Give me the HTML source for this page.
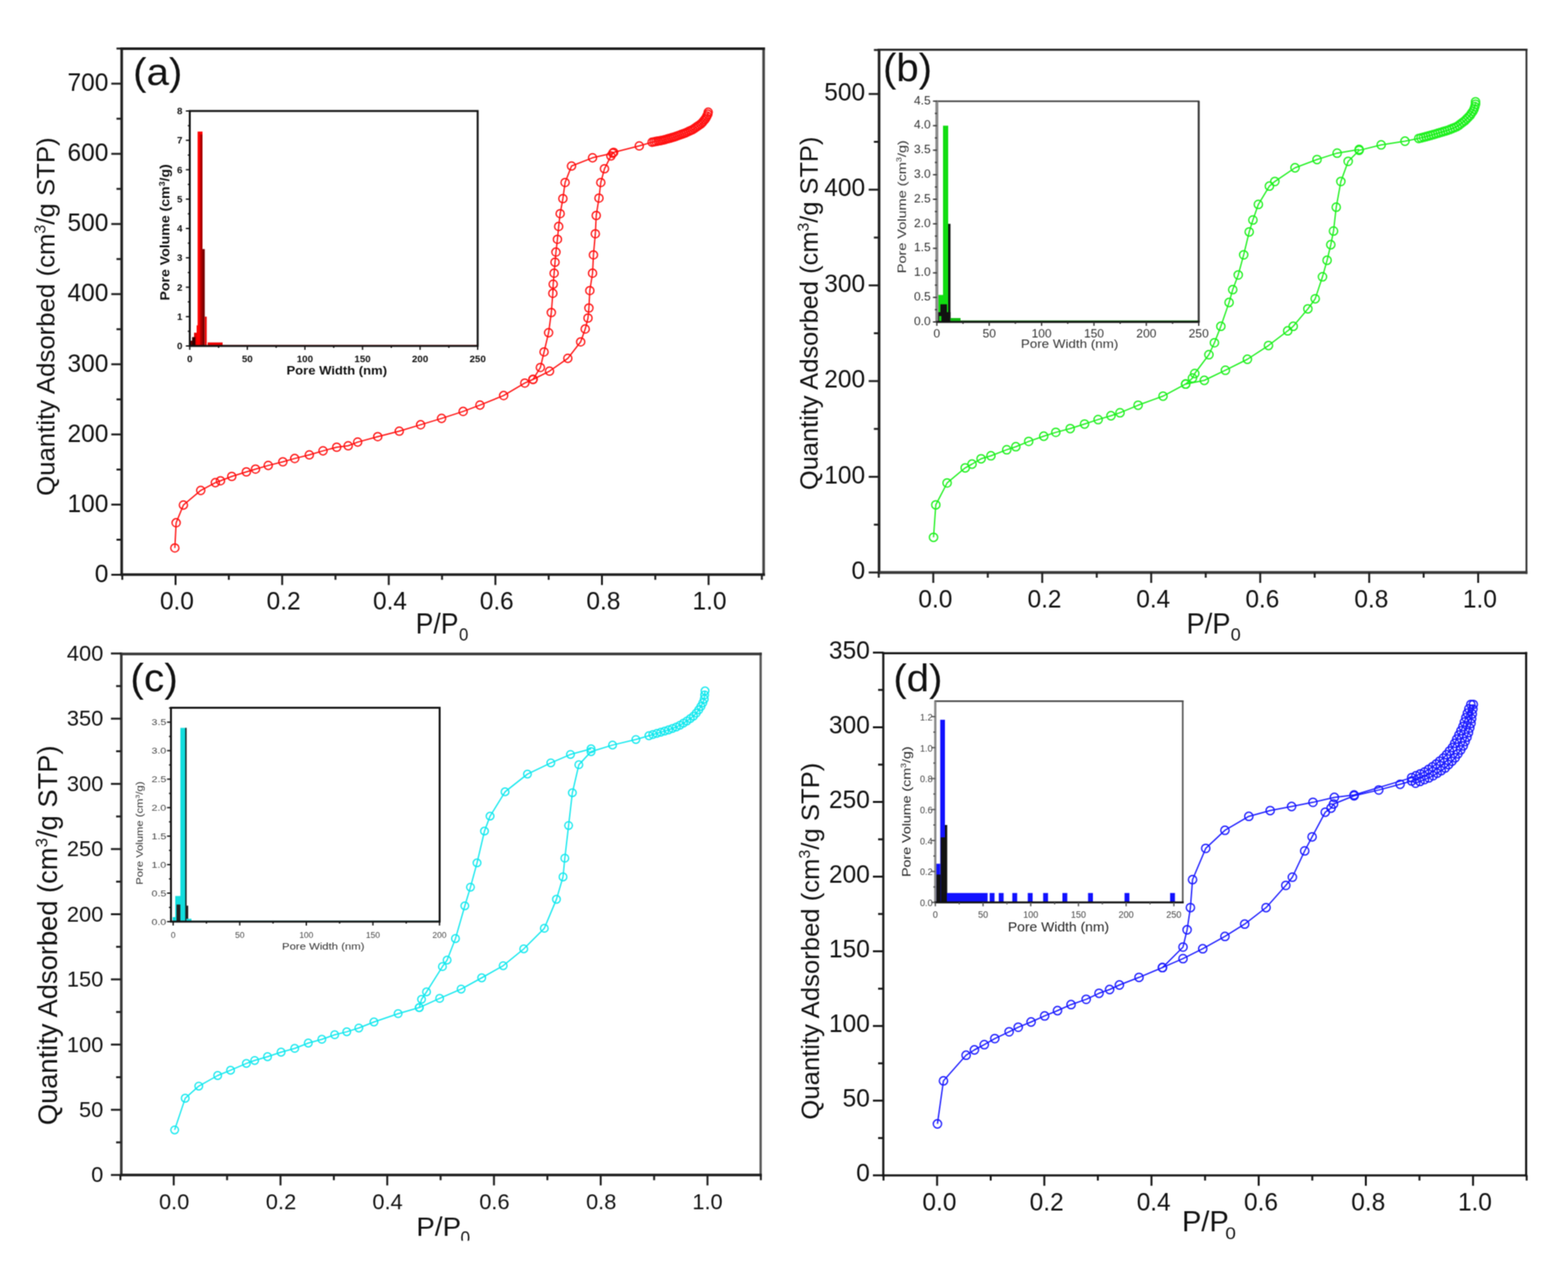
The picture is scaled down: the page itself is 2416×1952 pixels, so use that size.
<!DOCTYPE html>
<html><head><meta charset="utf-8"><title>Isotherms</title>
<style>html,body{margin:0;padding:0;background:#fff;overflow:hidden;}svg{display:block;}text{font-family:"Liberation Sans", Arial, Helvetica, sans-serif;}</style>
</head><body><div id="w">
<svg width="2416" height="1952" viewBox="0 0 2416 1952">
<defs><filter id="soft" filterUnits="userSpaceOnUse" x="0" y="0" width="2416" height="1952" color-interpolation-filters="sRGB"><feConvolveMatrix order="3" kernelMatrix="1 2 1 2 4 2 1 2 1" edgeMode="duplicate"/></filter></defs>
<g filter="url(#soft)">
<rect width="2416" height="1952" fill="#fff"/>
<line x1="187.5" y1="73" x2="187.5" y2="887.3" stroke="#1e1e1e" stroke-width="4"/>
<line x1="1176.6" y1="73" x2="1176.6" y2="887.3" stroke="#444" stroke-width="4"/>
<line x1="185.5" y1="75" x2="1178.6" y2="75" stroke="#1e1e1e" stroke-width="4"/>
<line x1="185.5" y1="885.3" x2="1178.6" y2="885.3" stroke="#1e1e1e" stroke-width="4"/>
<line x1="270.5" y1="885.3" x2="270.5" y2="901.3" stroke="#1e1e1e" stroke-width="3"/>
<line x1="434.8" y1="885.3" x2="434.8" y2="901.3" stroke="#1e1e1e" stroke-width="3"/>
<line x1="599" y1="885.3" x2="599" y2="901.3" stroke="#1e1e1e" stroke-width="3"/>
<line x1="763.3" y1="885.3" x2="763.3" y2="901.3" stroke="#1e1e1e" stroke-width="3"/>
<line x1="927.5" y1="885.3" x2="927.5" y2="901.3" stroke="#1e1e1e" stroke-width="3"/>
<line x1="1091.8" y1="885.3" x2="1091.8" y2="901.3" stroke="#1e1e1e" stroke-width="3"/>
<line x1="188.4" y1="885.3" x2="188.4" y2="893.3" stroke="#1e1e1e" stroke-width="3"/>
<line x1="352.6" y1="885.3" x2="352.6" y2="893.3" stroke="#1e1e1e" stroke-width="3"/>
<line x1="516.9" y1="885.3" x2="516.9" y2="893.3" stroke="#1e1e1e" stroke-width="3"/>
<line x1="681.1" y1="885.3" x2="681.1" y2="893.3" stroke="#1e1e1e" stroke-width="3"/>
<line x1="845.4" y1="885.3" x2="845.4" y2="893.3" stroke="#1e1e1e" stroke-width="3"/>
<line x1="1009.7" y1="885.3" x2="1009.7" y2="893.3" stroke="#1e1e1e" stroke-width="3"/>
<line x1="1173.9" y1="885.3" x2="1173.9" y2="893.3" stroke="#1e1e1e" stroke-width="3"/>
<line x1="171.5" y1="885.5" x2="187.5" y2="885.5" stroke="#1e1e1e" stroke-width="3"/>
<line x1="171.5" y1="777.4" x2="187.5" y2="777.4" stroke="#1e1e1e" stroke-width="3"/>
<line x1="171.5" y1="669.3" x2="187.5" y2="669.3" stroke="#1e1e1e" stroke-width="3"/>
<line x1="171.5" y1="561.2" x2="187.5" y2="561.2" stroke="#1e1e1e" stroke-width="3"/>
<line x1="171.5" y1="453.1" x2="187.5" y2="453.1" stroke="#1e1e1e" stroke-width="3"/>
<line x1="171.5" y1="345.1" x2="187.5" y2="345.1" stroke="#1e1e1e" stroke-width="3"/>
<line x1="171.5" y1="237" x2="187.5" y2="237" stroke="#1e1e1e" stroke-width="3"/>
<line x1="171.5" y1="128.9" x2="187.5" y2="128.9" stroke="#1e1e1e" stroke-width="3"/>
<line x1="179.5" y1="831.5" x2="187.5" y2="831.5" stroke="#1e1e1e" stroke-width="3"/>
<line x1="179.5" y1="723.4" x2="187.5" y2="723.4" stroke="#1e1e1e" stroke-width="3"/>
<line x1="179.5" y1="615.3" x2="187.5" y2="615.3" stroke="#1e1e1e" stroke-width="3"/>
<line x1="179.5" y1="507.2" x2="187.5" y2="507.2" stroke="#1e1e1e" stroke-width="3"/>
<line x1="179.5" y1="399.1" x2="187.5" y2="399.1" stroke="#1e1e1e" stroke-width="3"/>
<line x1="179.5" y1="291" x2="187.5" y2="291" stroke="#1e1e1e" stroke-width="3"/>
<line x1="179.5" y1="182.9" x2="187.5" y2="182.9" stroke="#1e1e1e" stroke-width="3"/>
<line x1="179.5" y1="74.8" x2="187.5" y2="74.8" stroke="#1e1e1e" stroke-width="3"/>
<text x="246.4" y="938.5" font-size="38.5" textLength="52.4" lengthAdjust="spacingAndGlyphs" fill="#111">0.0</text>
<text x="410.8" y="938.5" font-size="38.5" textLength="52.4" lengthAdjust="spacingAndGlyphs" fill="#111">0.2</text>
<text x="574.7" y="938.5" font-size="38.5" textLength="52.4" lengthAdjust="spacingAndGlyphs" fill="#111">0.4</text>
<text x="739.2" y="938.5" font-size="38.5" textLength="52.4" lengthAdjust="spacingAndGlyphs" fill="#111">0.6</text>
<text x="903.5" y="938.5" font-size="38.5" textLength="52.4" lengthAdjust="spacingAndGlyphs" fill="#111">0.8</text>
<text x="1067" y="938.5" font-size="38.5" textLength="52.4" lengthAdjust="spacingAndGlyphs" fill="#111">1.0</text>
<text x="146" y="896.8" font-size="38.5" textLength="21" lengthAdjust="spacingAndGlyphs" fill="#111">0</text>
<text x="104" y="788.7" font-size="38.5" textLength="63" lengthAdjust="spacingAndGlyphs" fill="#111">100</text>
<text x="104" y="680.6" font-size="38.5" textLength="63" lengthAdjust="spacingAndGlyphs" fill="#111">200</text>
<text x="104" y="572.5" font-size="38.5" textLength="63" lengthAdjust="spacingAndGlyphs" fill="#111">300</text>
<text x="104" y="464.4" font-size="38.5" textLength="63" lengthAdjust="spacingAndGlyphs" fill="#111">400</text>
<text x="104" y="356.4" font-size="38.5" textLength="63" lengthAdjust="spacingAndGlyphs" fill="#111">500</text>
<text x="104" y="248.3" font-size="38.5" textLength="63" lengthAdjust="spacingAndGlyphs" fill="#111">600</text>
<text x="104" y="140.2" font-size="38.5" textLength="63" lengthAdjust="spacingAndGlyphs" fill="#111">700</text>
<text x="205" y="130.9" font-size="58.3" textLength="76.1" lengthAdjust="spacingAndGlyphs" fill="#111">(a)</text>
<text x="83.6" y="764" font-size="39" fill="#111" textLength="552.5" lengthAdjust="spacingAndGlyphs" transform="rotate(-90 83.6 764)">Quantity Adsorbed (cm<tspan font-size="24.2" dy="-14">3</tspan><tspan dy="14">/g STP)</tspan></text>
<text x="640.6" y="976.4" font-size="44" textLength="65.9" lengthAdjust="spacingAndGlyphs" fill="#111">P/P</text>
<text x="707.2" y="987" font-size="27.4" textLength="14.4" lengthAdjust="spacingAndGlyphs" fill="#111">0</text>
<rect x="292.4" y="171" width="443.6" height="362" fill="#fff" stroke="none"/>
<rect x="292.4" y="524.9" width="6.6" height="8.1" fill="#600"/>
<rect x="299" y="512.6" width="4" height="20.4" fill="#d00"/>
<rect x="303" y="501.3" width="2" height="31.7" fill="#f00"/>
<rect x="304.5" y="202.7" width="7.5" height="330.3" fill="#f00"/>
<rect x="308.5" y="207.2" width="3.5" height="325.8" fill="#a00"/>
<rect x="312" y="383.7" width="3.5" height="149.3" fill="#700"/>
<rect x="315.5" y="487.8" width="3" height="45.2" fill="#e00"/>
<rect x="320" y="527.6" width="23" height="5.4" fill="#e00"/>
<rect x="343" y="531.6" width="393" height="1.4" fill="#e00"/>
<rect x="296" y="519.4" width="5" height="13.6" fill="#300"/>
<rect x="292.4" y="171" width="443.6" height="362" fill="none" stroke="#111" stroke-width="3"/>
<line x1="292.4" y1="533" x2="292.4" y2="539" stroke="#111" stroke-width="2"/>
<line x1="381.1" y1="533" x2="381.1" y2="539" stroke="#111" stroke-width="2"/>
<line x1="469.8" y1="533" x2="469.8" y2="539" stroke="#111" stroke-width="2"/>
<line x1="558.6" y1="533" x2="558.6" y2="539" stroke="#111" stroke-width="2"/>
<line x1="647.3" y1="533" x2="647.3" y2="539" stroke="#111" stroke-width="2"/>
<line x1="736" y1="533" x2="736" y2="539" stroke="#111" stroke-width="2"/>
<line x1="336.8" y1="533" x2="336.8" y2="536" stroke="#111" stroke-width="2"/>
<line x1="425.5" y1="533" x2="425.5" y2="536" stroke="#111" stroke-width="2"/>
<line x1="514.2" y1="533" x2="514.2" y2="536" stroke="#111" stroke-width="2"/>
<line x1="602.9" y1="533" x2="602.9" y2="536" stroke="#111" stroke-width="2"/>
<line x1="691.6" y1="533" x2="691.6" y2="536" stroke="#111" stroke-width="2"/>
<line x1="286.4" y1="533" x2="292.4" y2="533" stroke="#111" stroke-width="2"/>
<line x1="286.4" y1="487.8" x2="292.4" y2="487.8" stroke="#111" stroke-width="2"/>
<line x1="286.4" y1="442.5" x2="292.4" y2="442.5" stroke="#111" stroke-width="2"/>
<line x1="286.4" y1="397.2" x2="292.4" y2="397.2" stroke="#111" stroke-width="2"/>
<line x1="286.4" y1="352" x2="292.4" y2="352" stroke="#111" stroke-width="2"/>
<line x1="286.4" y1="306.8" x2="292.4" y2="306.8" stroke="#111" stroke-width="2"/>
<line x1="286.4" y1="261.5" x2="292.4" y2="261.5" stroke="#111" stroke-width="2"/>
<line x1="286.4" y1="216.2" x2="292.4" y2="216.2" stroke="#111" stroke-width="2"/>
<line x1="286.4" y1="171" x2="292.4" y2="171" stroke="#111" stroke-width="2"/>
<line x1="289.4" y1="510.4" x2="292.4" y2="510.4" stroke="#111" stroke-width="2"/>
<line x1="289.4" y1="465.1" x2="292.4" y2="465.1" stroke="#111" stroke-width="2"/>
<line x1="289.4" y1="419.9" x2="292.4" y2="419.9" stroke="#111" stroke-width="2"/>
<line x1="289.4" y1="374.6" x2="292.4" y2="374.6" stroke="#111" stroke-width="2"/>
<line x1="289.4" y1="329.4" x2="292.4" y2="329.4" stroke="#111" stroke-width="2"/>
<line x1="289.4" y1="284.1" x2="292.4" y2="284.1" stroke="#111" stroke-width="2"/>
<line x1="289.4" y1="238.9" x2="292.4" y2="238.9" stroke="#111" stroke-width="2"/>
<line x1="289.4" y1="193.6" x2="292.4" y2="193.6" stroke="#111" stroke-width="2"/>
<text x="292.4" y="558" font-size="15" text-anchor="middle" font-weight="bold" fill="#111">0</text>
<text x="381.1" y="558" font-size="15" text-anchor="middle" font-weight="bold" fill="#111">50</text>
<text x="469.8" y="558" font-size="15" text-anchor="middle" font-weight="bold" fill="#111">100</text>
<text x="558.6" y="558" font-size="15" text-anchor="middle" font-weight="bold" fill="#111">150</text>
<text x="647.3" y="558" font-size="15" text-anchor="middle" font-weight="bold" fill="#111">200</text>
<text x="736" y="558" font-size="15" text-anchor="middle" font-weight="bold" fill="#111">250</text>
<text x="281" y="538" font-size="15" text-anchor="end" font-weight="bold" fill="#111">0</text>
<text x="281" y="492.8" font-size="15" text-anchor="end" font-weight="bold" fill="#111">1</text>
<text x="281" y="447.5" font-size="15" text-anchor="end" font-weight="bold" fill="#111">2</text>
<text x="281" y="402.2" font-size="15" text-anchor="end" font-weight="bold" fill="#111">3</text>
<text x="281" y="357" font-size="15" text-anchor="end" font-weight="bold" fill="#111">4</text>
<text x="281" y="311.8" font-size="15" text-anchor="end" font-weight="bold" fill="#111">5</text>
<text x="281" y="266.5" font-size="15" text-anchor="end" font-weight="bold" fill="#111">6</text>
<text x="281" y="221.2" font-size="15" text-anchor="end" font-weight="bold" fill="#111">7</text>
<text x="281" y="176" font-size="15" text-anchor="end" font-weight="bold" fill="#111">8</text>
<text x="261.3" y="463" font-size="20" font-weight="bold" fill="#111" textLength="210" lengthAdjust="spacingAndGlyphs" transform="rotate(-90 261.3 463)">Pore Volume (cm<tspan font-size="12.4" dy="-7.2">3</tspan><tspan dy="7.2">/g)</tspan></text>
<text x="441.4" y="577" font-size="19" font-weight="bold" textLength="155" lengthAdjust="spacingAndGlyphs" fill="#111">Pore Width (nm)</text>
<path d="M269.4,844.2 L271.4,805.4 L282.6,778.1 L309.3,755.6 L331.8,743.6 L339.7,740.7 L357.1,734 L379.6,727 L393.7,722.7 L413.3,717.1 L435.8,711.5 L454.1,706.4 L476.6,700.8 L497.7,694.6 L518.8,689 L536.5,686.8 L551.1,681.1 L582,672.7 L615.2,664.3 L648.1,654.4 L680.4,644.6 L713.6,633.9 L739.5,624.1 L776,609.4 L808.6,590.2 L821.3,584.5 L846.7,571.8 L874.9,552.1 L894.7,526.7 L901.7,506.9 L906,490 L907.4,474.5 L908.8,447.7 L913,420.9 L914.4,392.7 L917.3,360.2 L918.7,332 L922.9,305.2 L925.7,281.2 L931.4,260 L941.3,240.3 L945.5,234.7 L985,224.8 L1004.7,219.1 L1007.8,218.5 L1010.8,217.9 L1013.9,217.4 L1017,216.8 L1020,216.2 L1023.1,215.5 L1026.1,214.7 L1029.1,213.8 L1032.1,213 L1035.1,212.1 L1038.1,211.3 L1041,210.3 L1044,209.2 L1046.9,208.2 L1049.8,207.1 L1052.8,206.1 L1055.7,205 L1058.5,203.7 L1061.4,202.4 L1064.2,201.1 L1067,199.8 L1069.7,198.1 L1072.2,196.3 L1074.8,194.5 L1077.3,192.8 L1079.9,191 L1082.1,188.8 L1084.1,186.4 L1086.1,184 L1087.9,181.5 L1089.2,178.7 L1090.6,175.9 L1091.2,172.8" fill="none" stroke="#ff1010" stroke-width="2" stroke-linejoin="round"/>
<path d="M944.1,236.1 L913,243.1 L880.6,255.8 L870.7,281.2 L867.3,306 L863.1,329.2 L860.8,348.9 L858.9,368.7 L856.6,388.4 L855.2,404 L853.8,420.9 L852.4,437.8 L851.8,451.9 L849.5,481.5 L845.3,512.6 L838.3,542.2 L832.6,566.2 L821.3,584.5" fill="none" stroke="#ff1010" stroke-width="2" stroke-linejoin="round"/>
<circle cx="269.4" cy="844.2" r="6.3" fill="none" stroke="#ff1010" stroke-width="2"/>
<circle cx="271.4" cy="805.4" r="6.3" fill="none" stroke="#ff1010" stroke-width="2"/>
<circle cx="282.6" cy="778.1" r="6.3" fill="none" stroke="#ff1010" stroke-width="2"/>
<circle cx="309.3" cy="755.6" r="6.3" fill="none" stroke="#ff1010" stroke-width="2"/>
<circle cx="331.8" cy="743.6" r="6.3" fill="none" stroke="#ff1010" stroke-width="2"/>
<circle cx="339.7" cy="740.7" r="6.3" fill="none" stroke="#ff1010" stroke-width="2"/>
<circle cx="357.1" cy="734" r="6.3" fill="none" stroke="#ff1010" stroke-width="2"/>
<circle cx="379.6" cy="727" r="6.3" fill="none" stroke="#ff1010" stroke-width="2"/>
<circle cx="393.7" cy="722.7" r="6.3" fill="none" stroke="#ff1010" stroke-width="2"/>
<circle cx="413.3" cy="717.1" r="6.3" fill="none" stroke="#ff1010" stroke-width="2"/>
<circle cx="435.8" cy="711.5" r="6.3" fill="none" stroke="#ff1010" stroke-width="2"/>
<circle cx="454.1" cy="706.4" r="6.3" fill="none" stroke="#ff1010" stroke-width="2"/>
<circle cx="476.6" cy="700.8" r="6.3" fill="none" stroke="#ff1010" stroke-width="2"/>
<circle cx="497.7" cy="694.6" r="6.3" fill="none" stroke="#ff1010" stroke-width="2"/>
<circle cx="518.8" cy="689" r="6.3" fill="none" stroke="#ff1010" stroke-width="2"/>
<circle cx="536.5" cy="686.8" r="6.3" fill="none" stroke="#ff1010" stroke-width="2"/>
<circle cx="551.1" cy="681.1" r="6.3" fill="none" stroke="#ff1010" stroke-width="2"/>
<circle cx="582" cy="672.7" r="6.3" fill="none" stroke="#ff1010" stroke-width="2"/>
<circle cx="615.2" cy="664.3" r="6.3" fill="none" stroke="#ff1010" stroke-width="2"/>
<circle cx="648.1" cy="654.4" r="6.3" fill="none" stroke="#ff1010" stroke-width="2"/>
<circle cx="680.4" cy="644.6" r="6.3" fill="none" stroke="#ff1010" stroke-width="2"/>
<circle cx="713.6" cy="633.9" r="6.3" fill="none" stroke="#ff1010" stroke-width="2"/>
<circle cx="739.5" cy="624.1" r="6.3" fill="none" stroke="#ff1010" stroke-width="2"/>
<circle cx="776" cy="609.4" r="6.3" fill="none" stroke="#ff1010" stroke-width="2"/>
<circle cx="808.6" cy="590.2" r="6.3" fill="none" stroke="#ff1010" stroke-width="2"/>
<circle cx="821.3" cy="584.5" r="6.3" fill="none" stroke="#ff1010" stroke-width="2"/>
<circle cx="846.7" cy="571.8" r="6.3" fill="none" stroke="#ff1010" stroke-width="2"/>
<circle cx="874.9" cy="552.1" r="6.3" fill="none" stroke="#ff1010" stroke-width="2"/>
<circle cx="894.7" cy="526.7" r="6.3" fill="none" stroke="#ff1010" stroke-width="2"/>
<circle cx="901.7" cy="506.9" r="6.3" fill="none" stroke="#ff1010" stroke-width="2"/>
<circle cx="906" cy="490" r="6.3" fill="none" stroke="#ff1010" stroke-width="2"/>
<circle cx="907.4" cy="474.5" r="6.3" fill="none" stroke="#ff1010" stroke-width="2"/>
<circle cx="908.8" cy="447.7" r="6.3" fill="none" stroke="#ff1010" stroke-width="2"/>
<circle cx="913" cy="420.9" r="6.3" fill="none" stroke="#ff1010" stroke-width="2"/>
<circle cx="914.4" cy="392.7" r="6.3" fill="none" stroke="#ff1010" stroke-width="2"/>
<circle cx="917.3" cy="360.2" r="6.3" fill="none" stroke="#ff1010" stroke-width="2"/>
<circle cx="918.7" cy="332" r="6.3" fill="none" stroke="#ff1010" stroke-width="2"/>
<circle cx="922.9" cy="305.2" r="6.3" fill="none" stroke="#ff1010" stroke-width="2"/>
<circle cx="925.7" cy="281.2" r="6.3" fill="none" stroke="#ff1010" stroke-width="2"/>
<circle cx="931.4" cy="260" r="6.3" fill="none" stroke="#ff1010" stroke-width="2"/>
<circle cx="941.3" cy="240.3" r="6.3" fill="none" stroke="#ff1010" stroke-width="2"/>
<circle cx="945.5" cy="234.7" r="6.3" fill="none" stroke="#ff1010" stroke-width="2"/>
<circle cx="985" cy="224.8" r="6.3" fill="none" stroke="#ff1010" stroke-width="2"/>
<circle cx="1004.7" cy="219.1" r="6.3" fill="none" stroke="#ff1010" stroke-width="2"/>
<circle cx="1007.8" cy="218.5" r="6.3" fill="none" stroke="#ff1010" stroke-width="2"/>
<circle cx="1010.8" cy="217.9" r="6.3" fill="none" stroke="#ff1010" stroke-width="2"/>
<circle cx="1013.9" cy="217.4" r="6.3" fill="none" stroke="#ff1010" stroke-width="2"/>
<circle cx="1017" cy="216.8" r="6.3" fill="none" stroke="#ff1010" stroke-width="2"/>
<circle cx="1020" cy="216.2" r="6.3" fill="none" stroke="#ff1010" stroke-width="2"/>
<circle cx="1023.1" cy="215.5" r="6.3" fill="none" stroke="#ff1010" stroke-width="2"/>
<circle cx="1026.1" cy="214.7" r="6.3" fill="none" stroke="#ff1010" stroke-width="2"/>
<circle cx="1029.1" cy="213.8" r="6.3" fill="none" stroke="#ff1010" stroke-width="2"/>
<circle cx="1032.1" cy="213" r="6.3" fill="none" stroke="#ff1010" stroke-width="2"/>
<circle cx="1035.1" cy="212.1" r="6.3" fill="none" stroke="#ff1010" stroke-width="2"/>
<circle cx="1038.1" cy="211.3" r="6.3" fill="none" stroke="#ff1010" stroke-width="2"/>
<circle cx="1041" cy="210.3" r="6.3" fill="none" stroke="#ff1010" stroke-width="2"/>
<circle cx="1044" cy="209.2" r="6.3" fill="none" stroke="#ff1010" stroke-width="2"/>
<circle cx="1046.9" cy="208.2" r="6.3" fill="none" stroke="#ff1010" stroke-width="2"/>
<circle cx="1049.8" cy="207.1" r="6.3" fill="none" stroke="#ff1010" stroke-width="2"/>
<circle cx="1052.8" cy="206.1" r="6.3" fill="none" stroke="#ff1010" stroke-width="2"/>
<circle cx="1055.7" cy="205" r="6.3" fill="none" stroke="#ff1010" stroke-width="2"/>
<circle cx="1058.5" cy="203.7" r="6.3" fill="none" stroke="#ff1010" stroke-width="2"/>
<circle cx="1061.4" cy="202.4" r="6.3" fill="none" stroke="#ff1010" stroke-width="2"/>
<circle cx="1064.2" cy="201.1" r="6.3" fill="none" stroke="#ff1010" stroke-width="2"/>
<circle cx="1067" cy="199.8" r="6.3" fill="none" stroke="#ff1010" stroke-width="2"/>
<circle cx="1069.7" cy="198.1" r="6.3" fill="none" stroke="#ff1010" stroke-width="2"/>
<circle cx="1072.2" cy="196.3" r="6.3" fill="none" stroke="#ff1010" stroke-width="2"/>
<circle cx="1074.8" cy="194.5" r="6.3" fill="none" stroke="#ff1010" stroke-width="2"/>
<circle cx="1077.3" cy="192.8" r="6.3" fill="none" stroke="#ff1010" stroke-width="2"/>
<circle cx="1079.9" cy="191" r="6.3" fill="none" stroke="#ff1010" stroke-width="2"/>
<circle cx="1082.1" cy="188.8" r="6.3" fill="none" stroke="#ff1010" stroke-width="2"/>
<circle cx="1084.1" cy="186.4" r="6.3" fill="none" stroke="#ff1010" stroke-width="2"/>
<circle cx="1086.1" cy="184" r="6.3" fill="none" stroke="#ff1010" stroke-width="2"/>
<circle cx="1087.9" cy="181.5" r="6.3" fill="none" stroke="#ff1010" stroke-width="2"/>
<circle cx="1089.2" cy="178.7" r="6.3" fill="none" stroke="#ff1010" stroke-width="2"/>
<circle cx="1090.6" cy="175.9" r="6.3" fill="none" stroke="#ff1010" stroke-width="2"/>
<circle cx="1091.2" cy="172.8" r="6.3" fill="none" stroke="#ff1010" stroke-width="2"/>
<circle cx="944.1" cy="236.1" r="6.3" fill="none" stroke="#ff1010" stroke-width="2"/>
<circle cx="913" cy="243.1" r="6.3" fill="none" stroke="#ff1010" stroke-width="2"/>
<circle cx="880.6" cy="255.8" r="6.3" fill="none" stroke="#ff1010" stroke-width="2"/>
<circle cx="870.7" cy="281.2" r="6.3" fill="none" stroke="#ff1010" stroke-width="2"/>
<circle cx="867.3" cy="306" r="6.3" fill="none" stroke="#ff1010" stroke-width="2"/>
<circle cx="863.1" cy="329.2" r="6.3" fill="none" stroke="#ff1010" stroke-width="2"/>
<circle cx="860.8" cy="348.9" r="6.3" fill="none" stroke="#ff1010" stroke-width="2"/>
<circle cx="858.9" cy="368.7" r="6.3" fill="none" stroke="#ff1010" stroke-width="2"/>
<circle cx="856.6" cy="388.4" r="6.3" fill="none" stroke="#ff1010" stroke-width="2"/>
<circle cx="855.2" cy="404" r="6.3" fill="none" stroke="#ff1010" stroke-width="2"/>
<circle cx="853.8" cy="420.9" r="6.3" fill="none" stroke="#ff1010" stroke-width="2"/>
<circle cx="852.4" cy="437.8" r="6.3" fill="none" stroke="#ff1010" stroke-width="2"/>
<circle cx="851.8" cy="451.9" r="6.3" fill="none" stroke="#ff1010" stroke-width="2"/>
<circle cx="849.5" cy="481.5" r="6.3" fill="none" stroke="#ff1010" stroke-width="2"/>
<circle cx="845.3" cy="512.6" r="6.3" fill="none" stroke="#ff1010" stroke-width="2"/>
<circle cx="838.3" cy="542.2" r="6.3" fill="none" stroke="#ff1010" stroke-width="2"/>
<circle cx="832.6" cy="566.2" r="6.3" fill="none" stroke="#ff1010" stroke-width="2"/>
<circle cx="821.3" cy="584.5" r="6.3" fill="none" stroke="#ff1010" stroke-width="2"/>
<line x1="1354.5" y1="75" x2="1354.5" y2="884.2" stroke="#1e1e1e" stroke-width="4"/>
<line x1="2352" y1="75" x2="2352" y2="884.2" stroke="#2a2a2a" stroke-width="2.8"/>
<line x1="1352.5" y1="76.6" x2="2353.4" y2="76.6" stroke="#2a2a2a" stroke-width="3.2"/>
<line x1="1352.5" y1="882" x2="2353.4" y2="882" stroke="#3a3a3a" stroke-width="4.5"/>
<line x1="1438" y1="882" x2="1438" y2="898" stroke="#1e1e1e" stroke-width="3"/>
<line x1="1605.9" y1="882" x2="1605.9" y2="898" stroke="#1e1e1e" stroke-width="3"/>
<line x1="1773.8" y1="882" x2="1773.8" y2="898" stroke="#1e1e1e" stroke-width="3"/>
<line x1="1941.8" y1="882" x2="1941.8" y2="898" stroke="#1e1e1e" stroke-width="3"/>
<line x1="2109.7" y1="882" x2="2109.7" y2="898" stroke="#1e1e1e" stroke-width="3"/>
<line x1="2277.6" y1="882" x2="2277.6" y2="898" stroke="#1e1e1e" stroke-width="3"/>
<line x1="1354" y1="882" x2="1354" y2="890" stroke="#1e1e1e" stroke-width="3"/>
<line x1="1522" y1="882" x2="1522" y2="890" stroke="#1e1e1e" stroke-width="3"/>
<line x1="1689.9" y1="882" x2="1689.9" y2="890" stroke="#1e1e1e" stroke-width="3"/>
<line x1="1857.8" y1="882" x2="1857.8" y2="890" stroke="#1e1e1e" stroke-width="3"/>
<line x1="2025.7" y1="882" x2="2025.7" y2="890" stroke="#1e1e1e" stroke-width="3"/>
<line x1="2193.6" y1="882" x2="2193.6" y2="890" stroke="#1e1e1e" stroke-width="3"/>
<line x1="1338.5" y1="882" x2="1354.5" y2="882" stroke="#1e1e1e" stroke-width="3"/>
<line x1="1338.5" y1="734.6" x2="1354.5" y2="734.6" stroke="#1e1e1e" stroke-width="3"/>
<line x1="1338.5" y1="587.1" x2="1354.5" y2="587.1" stroke="#1e1e1e" stroke-width="3"/>
<line x1="1338.5" y1="439.7" x2="1354.5" y2="439.7" stroke="#1e1e1e" stroke-width="3"/>
<line x1="1338.5" y1="292.2" x2="1354.5" y2="292.2" stroke="#1e1e1e" stroke-width="3"/>
<line x1="1338.5" y1="144.8" x2="1354.5" y2="144.8" stroke="#1e1e1e" stroke-width="3"/>
<line x1="1346.5" y1="808.3" x2="1354.5" y2="808.3" stroke="#1e1e1e" stroke-width="3"/>
<line x1="1346.5" y1="660.8" x2="1354.5" y2="660.8" stroke="#1e1e1e" stroke-width="3"/>
<line x1="1346.5" y1="513.4" x2="1354.5" y2="513.4" stroke="#1e1e1e" stroke-width="3"/>
<line x1="1346.5" y1="366" x2="1354.5" y2="366" stroke="#1e1e1e" stroke-width="3"/>
<line x1="1346.5" y1="218.5" x2="1354.5" y2="218.5" stroke="#1e1e1e" stroke-width="3"/>
<line x1="1346.5" y1="77" x2="1354.5" y2="77" stroke="#1e1e1e" stroke-width="3"/>
<text x="1415.1" y="935.8" font-size="38.5" textLength="52.4" lengthAdjust="spacingAndGlyphs" fill="#111">0.0</text>
<text x="1583.2" y="935.8" font-size="38.5" textLength="52.4" lengthAdjust="spacingAndGlyphs" fill="#111">0.2</text>
<text x="1750.7" y="935.8" font-size="38.5" textLength="52.4" lengthAdjust="spacingAndGlyphs" fill="#111">0.4</text>
<text x="1918.9" y="935.8" font-size="38.5" textLength="52.4" lengthAdjust="spacingAndGlyphs" fill="#111">0.6</text>
<text x="2086.8" y="935.8" font-size="38.5" textLength="52.4" lengthAdjust="spacingAndGlyphs" fill="#111">0.8</text>
<text x="2254" y="935.8" font-size="38.5" textLength="52.4" lengthAdjust="spacingAndGlyphs" fill="#111">1.0</text>
<text x="1312" y="892.1" font-size="38.5" textLength="21" lengthAdjust="spacingAndGlyphs" fill="#111">0</text>
<text x="1270" y="744.7" font-size="38.5" textLength="63" lengthAdjust="spacingAndGlyphs" fill="#111">100</text>
<text x="1270" y="597.2" font-size="38.5" textLength="63" lengthAdjust="spacingAndGlyphs" fill="#111">200</text>
<text x="1270" y="449.8" font-size="38.5" textLength="63" lengthAdjust="spacingAndGlyphs" fill="#111">300</text>
<text x="1270" y="302.3" font-size="38.5" textLength="63" lengthAdjust="spacingAndGlyphs" fill="#111">400</text>
<text x="1270" y="154.9" font-size="38.5" textLength="63" lengthAdjust="spacingAndGlyphs" fill="#111">500</text>
<text x="1360.4" y="124.9" font-size="60.2" textLength="75.9" lengthAdjust="spacingAndGlyphs" fill="#111">(b)</text>
<text x="1259.5" y="755" font-size="39" fill="#111" textLength="544.5" lengthAdjust="spacingAndGlyphs" transform="rotate(-90 1259.5 755)">Quantity Adsorbed (cm<tspan font-size="24.2" dy="-14">3</tspan><tspan dy="14">/g STP)</tspan></text>
<text x="1828.3" y="976.4" font-size="44.8" textLength="67.8" lengthAdjust="spacingAndGlyphs" fill="#111">P/P</text>
<text x="1896.2" y="986.7" font-size="27.4" textLength="15.5" lengthAdjust="spacingAndGlyphs" fill="#111">0</text>
<rect x="1443.5" y="156" width="403.5" height="340" fill="#fff" stroke="none"/>
<rect x="1446" y="454.4" width="7" height="41.6" fill="#11dd11"/>
<rect x="1453" y="193.6" width="8" height="302.4" fill="#11dd11"/>
<rect x="1461" y="344.8" width="3.5" height="151.2" fill="#111"/>
<rect x="1444.5" y="480.9" width="20" height="15.1" fill="#111"/>
<rect x="1449" y="468.8" width="10" height="27.2" fill="#111"/>
<rect x="1447" y="486.9" width="3.5" height="9.1" fill="#11dd11"/>
<rect x="1464.5" y="490" width="15.5" height="6" fill="#11bb11"/>
<rect x="1480" y="493.7" width="367" height="2.3" fill="#118811"/>
<line x1="1442.2" y1="156" x2="1848.2" y2="156" stroke="#444" stroke-width="2.5"/>
<line x1="1847" y1="156" x2="1847" y2="496" stroke="#333" stroke-width="3"/>
<line x1="1443.5" y1="156" x2="1443.5" y2="496" stroke="#8a8a8a" stroke-width="4.5"/>
<line x1="1442" y1="496" x2="1848.5" y2="496" stroke="#111" stroke-width="3"/>
<line x1="1443.5" y1="496" x2="1443.5" y2="502" stroke="#333" stroke-width="2"/>
<line x1="1524.2" y1="496" x2="1524.2" y2="502" stroke="#333" stroke-width="2"/>
<line x1="1604.9" y1="496" x2="1604.9" y2="502" stroke="#333" stroke-width="2"/>
<line x1="1685.6" y1="496" x2="1685.6" y2="502" stroke="#333" stroke-width="2"/>
<line x1="1766.3" y1="496" x2="1766.3" y2="502" stroke="#333" stroke-width="2"/>
<line x1="1847" y1="496" x2="1847" y2="502" stroke="#333" stroke-width="2"/>
<line x1="1483.8" y1="496" x2="1483.8" y2="499" stroke="#333" stroke-width="2"/>
<line x1="1564.5" y1="496" x2="1564.5" y2="499" stroke="#333" stroke-width="2"/>
<line x1="1645.2" y1="496" x2="1645.2" y2="499" stroke="#333" stroke-width="2"/>
<line x1="1726" y1="496" x2="1726" y2="499" stroke="#333" stroke-width="2"/>
<line x1="1806.7" y1="496" x2="1806.7" y2="499" stroke="#333" stroke-width="2"/>
<line x1="1437.5" y1="496" x2="1443.5" y2="496" stroke="#333" stroke-width="2"/>
<line x1="1437.5" y1="458.2" x2="1443.5" y2="458.2" stroke="#333" stroke-width="2"/>
<line x1="1437.5" y1="420.4" x2="1443.5" y2="420.4" stroke="#333" stroke-width="2"/>
<line x1="1437.5" y1="382.6" x2="1443.5" y2="382.6" stroke="#333" stroke-width="2"/>
<line x1="1437.5" y1="344.8" x2="1443.5" y2="344.8" stroke="#333" stroke-width="2"/>
<line x1="1437.5" y1="307" x2="1443.5" y2="307" stroke="#333" stroke-width="2"/>
<line x1="1437.5" y1="269.2" x2="1443.5" y2="269.2" stroke="#333" stroke-width="2"/>
<line x1="1437.5" y1="231.4" x2="1443.5" y2="231.4" stroke="#333" stroke-width="2"/>
<line x1="1437.5" y1="193.6" x2="1443.5" y2="193.6" stroke="#333" stroke-width="2"/>
<line x1="1437.5" y1="155.8" x2="1443.5" y2="155.8" stroke="#333" stroke-width="2"/>
<line x1="1440.5" y1="477.1" x2="1443.5" y2="477.1" stroke="#333" stroke-width="2"/>
<line x1="1440.5" y1="439.3" x2="1443.5" y2="439.3" stroke="#333" stroke-width="2"/>
<line x1="1440.5" y1="401.5" x2="1443.5" y2="401.5" stroke="#333" stroke-width="2"/>
<line x1="1440.5" y1="363.7" x2="1443.5" y2="363.7" stroke="#333" stroke-width="2"/>
<line x1="1440.5" y1="325.9" x2="1443.5" y2="325.9" stroke="#333" stroke-width="2"/>
<line x1="1440.5" y1="288.1" x2="1443.5" y2="288.1" stroke="#333" stroke-width="2"/>
<line x1="1440.5" y1="250.3" x2="1443.5" y2="250.3" stroke="#333" stroke-width="2"/>
<line x1="1440.5" y1="212.5" x2="1443.5" y2="212.5" stroke="#333" stroke-width="2"/>
<line x1="1440.5" y1="174.7" x2="1443.5" y2="174.7" stroke="#333" stroke-width="2"/>
<text x="1443.5" y="520" font-size="18.5" text-anchor="middle" fill="#333">0</text>
<text x="1524.2" y="520" font-size="18.5" text-anchor="middle" fill="#333">50</text>
<text x="1604.9" y="520" font-size="18.5" text-anchor="middle" fill="#333">100</text>
<text x="1685.6" y="520" font-size="18.5" text-anchor="middle" fill="#333">150</text>
<text x="1766.3" y="520" font-size="18.5" text-anchor="middle" fill="#333">200</text>
<text x="1847" y="520" font-size="18.5" text-anchor="middle" fill="#333">250</text>
<text x="1434" y="500.8" font-size="18.5" text-anchor="end" fill="#333">0.0</text>
<text x="1434" y="463" font-size="18.5" text-anchor="end" fill="#333">0.5</text>
<text x="1434" y="425.2" font-size="18.5" text-anchor="end" fill="#333">1.0</text>
<text x="1434" y="387.4" font-size="18.5" text-anchor="end" fill="#333">1.5</text>
<text x="1434" y="349.6" font-size="18.5" text-anchor="end" fill="#333">2.0</text>
<text x="1434" y="311.8" font-size="18.5" text-anchor="end" fill="#333">2.5</text>
<text x="1434" y="274" font-size="18.5" text-anchor="end" fill="#333">3.0</text>
<text x="1434" y="236.2" font-size="18.5" text-anchor="end" fill="#333">3.5</text>
<text x="1434" y="198.4" font-size="18.5" text-anchor="end" fill="#333">4.0</text>
<text x="1434" y="160.6" font-size="18.5" text-anchor="end" fill="#333">4.5</text>
<text x="1395.5" y="421" font-size="18" font-weight="normal" fill="#333" textLength="205" lengthAdjust="spacingAndGlyphs" transform="rotate(-90 1395.5 421)">Pore Volume (cm<tspan font-size="11.2" dy="-6.5">3</tspan><tspan dy="6.5">/g)</tspan></text>
<text x="1573" y="535.5" font-size="18" textLength="150" lengthAdjust="spacingAndGlyphs" fill="#333">Pore Width (nm)</text>
<path d="M1438.4,827.8 L1441.9,777.8 L1459.3,744.1 L1487.2,720.8 L1497.7,715 L1511.7,706.8 L1526.8,702.2 L1551.2,692.9 L1565.2,688.2 L1585,680.1 L1608.2,672 L1626.8,666.1 L1649,660.3 L1671.1,653.3 L1692,646.4 L1711.8,640.5 L1725.7,635.9 L1753.6,624.3 L1792,610.3 L1826.9,591.7 L1855.6,586 L1888.1,570.4 L1922,553.5 L1954.5,532.3 L1984.1,509.7 L1992.6,502.7 L2015.2,475.8 L2026.5,460.3 L2037.7,426.4 L2044.8,401 L2050.5,377 L2054.7,355.9 L2058.9,319.2 L2066,279.6 L2077.3,248.6 L2094.2,231.6 L2128.1,223.2 L2164.8,217.5 L2186,213.3 L2189.7,212.4 L2193.5,211.4 L2197.2,210.5 L2200.9,209.5 L2204.6,208.5 L2208.3,207.4 L2212,206.3 L2215.7,205.2 L2219.4,204.1 L2223.1,203 L2226.7,201.9 L2230.4,200.8 L2234,199.4 L2237.6,198 L2241.2,196.6 L2244.7,195.1 L2247.9,193 L2251,190.6 L2254,188.3 L2257.1,185.9 L2259.8,183.2 L2262.5,180.5 L2265.2,177.7 L2267.3,174.6 L2269.5,171.4 L2271.2,168 L2272.4,164.3 L2273.5,160.6 L2273.5,156.8" fill="none" stroke="#1ef01e" stroke-width="2" stroke-linejoin="round"/>
<path d="M2094.2,230.2 L2060.3,235.9 L2029.3,245.8 L1995.4,258.5 L1964.3,279.6 L1955.9,286.7 L1938.9,314.9 L1930.5,338.9 L1924.8,357.3 L1916.3,392.6 L1907.9,423.6 L1899.4,446.2 L1893.8,466 L1881.1,502.7 L1871.2,528.1 L1862.7,546.4 L1840.9,575.4 L1837.4,582.4 L1826.9,591.7" fill="none" stroke="#1ef01e" stroke-width="2" stroke-linejoin="round"/>
<circle cx="1438.4" cy="827.8" r="6.4" fill="none" stroke="#1ef01e" stroke-width="2"/>
<circle cx="1441.9" cy="777.8" r="6.4" fill="none" stroke="#1ef01e" stroke-width="2"/>
<circle cx="1459.3" cy="744.1" r="6.4" fill="none" stroke="#1ef01e" stroke-width="2"/>
<circle cx="1487.2" cy="720.8" r="6.4" fill="none" stroke="#1ef01e" stroke-width="2"/>
<circle cx="1497.7" cy="715" r="6.4" fill="none" stroke="#1ef01e" stroke-width="2"/>
<circle cx="1511.7" cy="706.8" r="6.4" fill="none" stroke="#1ef01e" stroke-width="2"/>
<circle cx="1526.8" cy="702.2" r="6.4" fill="none" stroke="#1ef01e" stroke-width="2"/>
<circle cx="1551.2" cy="692.9" r="6.4" fill="none" stroke="#1ef01e" stroke-width="2"/>
<circle cx="1565.2" cy="688.2" r="6.4" fill="none" stroke="#1ef01e" stroke-width="2"/>
<circle cx="1585" cy="680.1" r="6.4" fill="none" stroke="#1ef01e" stroke-width="2"/>
<circle cx="1608.2" cy="672" r="6.4" fill="none" stroke="#1ef01e" stroke-width="2"/>
<circle cx="1626.8" cy="666.1" r="6.4" fill="none" stroke="#1ef01e" stroke-width="2"/>
<circle cx="1649" cy="660.3" r="6.4" fill="none" stroke="#1ef01e" stroke-width="2"/>
<circle cx="1671.1" cy="653.3" r="6.4" fill="none" stroke="#1ef01e" stroke-width="2"/>
<circle cx="1692" cy="646.4" r="6.4" fill="none" stroke="#1ef01e" stroke-width="2"/>
<circle cx="1711.8" cy="640.5" r="6.4" fill="none" stroke="#1ef01e" stroke-width="2"/>
<circle cx="1725.7" cy="635.9" r="6.4" fill="none" stroke="#1ef01e" stroke-width="2"/>
<circle cx="1753.6" cy="624.3" r="6.4" fill="none" stroke="#1ef01e" stroke-width="2"/>
<circle cx="1792" cy="610.3" r="6.4" fill="none" stroke="#1ef01e" stroke-width="2"/>
<circle cx="1826.9" cy="591.7" r="6.4" fill="none" stroke="#1ef01e" stroke-width="2"/>
<circle cx="1855.6" cy="586" r="6.4" fill="none" stroke="#1ef01e" stroke-width="2"/>
<circle cx="1888.1" cy="570.4" r="6.4" fill="none" stroke="#1ef01e" stroke-width="2"/>
<circle cx="1922" cy="553.5" r="6.4" fill="none" stroke="#1ef01e" stroke-width="2"/>
<circle cx="1954.5" cy="532.3" r="6.4" fill="none" stroke="#1ef01e" stroke-width="2"/>
<circle cx="1984.1" cy="509.7" r="6.4" fill="none" stroke="#1ef01e" stroke-width="2"/>
<circle cx="1992.6" cy="502.7" r="6.4" fill="none" stroke="#1ef01e" stroke-width="2"/>
<circle cx="2015.2" cy="475.8" r="6.4" fill="none" stroke="#1ef01e" stroke-width="2"/>
<circle cx="2026.5" cy="460.3" r="6.4" fill="none" stroke="#1ef01e" stroke-width="2"/>
<circle cx="2037.7" cy="426.4" r="6.4" fill="none" stroke="#1ef01e" stroke-width="2"/>
<circle cx="2044.8" cy="401" r="6.4" fill="none" stroke="#1ef01e" stroke-width="2"/>
<circle cx="2050.5" cy="377" r="6.4" fill="none" stroke="#1ef01e" stroke-width="2"/>
<circle cx="2054.7" cy="355.9" r="6.4" fill="none" stroke="#1ef01e" stroke-width="2"/>
<circle cx="2058.9" cy="319.2" r="6.4" fill="none" stroke="#1ef01e" stroke-width="2"/>
<circle cx="2066" cy="279.6" r="6.4" fill="none" stroke="#1ef01e" stroke-width="2"/>
<circle cx="2077.3" cy="248.6" r="6.4" fill="none" stroke="#1ef01e" stroke-width="2"/>
<circle cx="2094.2" cy="231.6" r="6.4" fill="none" stroke="#1ef01e" stroke-width="2"/>
<circle cx="2128.1" cy="223.2" r="6.4" fill="none" stroke="#1ef01e" stroke-width="2"/>
<circle cx="2164.8" cy="217.5" r="6.4" fill="none" stroke="#1ef01e" stroke-width="2"/>
<circle cx="2186" cy="213.3" r="6.4" fill="none" stroke="#1ef01e" stroke-width="2"/>
<circle cx="2189.7" cy="212.4" r="6.4" fill="none" stroke="#1ef01e" stroke-width="2"/>
<circle cx="2193.5" cy="211.4" r="6.4" fill="none" stroke="#1ef01e" stroke-width="2"/>
<circle cx="2197.2" cy="210.5" r="6.4" fill="none" stroke="#1ef01e" stroke-width="2"/>
<circle cx="2200.9" cy="209.5" r="6.4" fill="none" stroke="#1ef01e" stroke-width="2"/>
<circle cx="2204.6" cy="208.5" r="6.4" fill="none" stroke="#1ef01e" stroke-width="2"/>
<circle cx="2208.3" cy="207.4" r="6.4" fill="none" stroke="#1ef01e" stroke-width="2"/>
<circle cx="2212" cy="206.3" r="6.4" fill="none" stroke="#1ef01e" stroke-width="2"/>
<circle cx="2215.7" cy="205.2" r="6.4" fill="none" stroke="#1ef01e" stroke-width="2"/>
<circle cx="2219.4" cy="204.1" r="6.4" fill="none" stroke="#1ef01e" stroke-width="2"/>
<circle cx="2223.1" cy="203" r="6.4" fill="none" stroke="#1ef01e" stroke-width="2"/>
<circle cx="2226.7" cy="201.9" r="6.4" fill="none" stroke="#1ef01e" stroke-width="2"/>
<circle cx="2230.4" cy="200.8" r="6.4" fill="none" stroke="#1ef01e" stroke-width="2"/>
<circle cx="2234" cy="199.4" r="6.4" fill="none" stroke="#1ef01e" stroke-width="2"/>
<circle cx="2237.6" cy="198" r="6.4" fill="none" stroke="#1ef01e" stroke-width="2"/>
<circle cx="2241.2" cy="196.6" r="6.4" fill="none" stroke="#1ef01e" stroke-width="2"/>
<circle cx="2244.7" cy="195.1" r="6.4" fill="none" stroke="#1ef01e" stroke-width="2"/>
<circle cx="2247.9" cy="193" r="6.4" fill="none" stroke="#1ef01e" stroke-width="2"/>
<circle cx="2251" cy="190.6" r="6.4" fill="none" stroke="#1ef01e" stroke-width="2"/>
<circle cx="2254" cy="188.3" r="6.4" fill="none" stroke="#1ef01e" stroke-width="2"/>
<circle cx="2257.1" cy="185.9" r="6.4" fill="none" stroke="#1ef01e" stroke-width="2"/>
<circle cx="2259.8" cy="183.2" r="6.4" fill="none" stroke="#1ef01e" stroke-width="2"/>
<circle cx="2262.5" cy="180.5" r="6.4" fill="none" stroke="#1ef01e" stroke-width="2"/>
<circle cx="2265.2" cy="177.7" r="6.4" fill="none" stroke="#1ef01e" stroke-width="2"/>
<circle cx="2267.3" cy="174.6" r="6.4" fill="none" stroke="#1ef01e" stroke-width="2"/>
<circle cx="2269.5" cy="171.4" r="6.4" fill="none" stroke="#1ef01e" stroke-width="2"/>
<circle cx="2271.2" cy="168" r="6.4" fill="none" stroke="#1ef01e" stroke-width="2"/>
<circle cx="2272.4" cy="164.3" r="6.4" fill="none" stroke="#1ef01e" stroke-width="2"/>
<circle cx="2273.5" cy="160.6" r="6.4" fill="none" stroke="#1ef01e" stroke-width="2"/>
<circle cx="2273.5" cy="156.8" r="6.4" fill="none" stroke="#1ef01e" stroke-width="2"/>
<circle cx="2094.2" cy="230.2" r="6.4" fill="none" stroke="#1ef01e" stroke-width="2"/>
<circle cx="2060.3" cy="235.9" r="6.4" fill="none" stroke="#1ef01e" stroke-width="2"/>
<circle cx="2029.3" cy="245.8" r="6.4" fill="none" stroke="#1ef01e" stroke-width="2"/>
<circle cx="1995.4" cy="258.5" r="6.4" fill="none" stroke="#1ef01e" stroke-width="2"/>
<circle cx="1964.3" cy="279.6" r="6.4" fill="none" stroke="#1ef01e" stroke-width="2"/>
<circle cx="1955.9" cy="286.7" r="6.4" fill="none" stroke="#1ef01e" stroke-width="2"/>
<circle cx="1938.9" cy="314.9" r="6.4" fill="none" stroke="#1ef01e" stroke-width="2"/>
<circle cx="1930.5" cy="338.9" r="6.4" fill="none" stroke="#1ef01e" stroke-width="2"/>
<circle cx="1924.8" cy="357.3" r="6.4" fill="none" stroke="#1ef01e" stroke-width="2"/>
<circle cx="1916.3" cy="392.6" r="6.4" fill="none" stroke="#1ef01e" stroke-width="2"/>
<circle cx="1907.9" cy="423.6" r="6.4" fill="none" stroke="#1ef01e" stroke-width="2"/>
<circle cx="1899.4" cy="446.2" r="6.4" fill="none" stroke="#1ef01e" stroke-width="2"/>
<circle cx="1893.8" cy="466" r="6.4" fill="none" stroke="#1ef01e" stroke-width="2"/>
<circle cx="1881.1" cy="502.7" r="6.4" fill="none" stroke="#1ef01e" stroke-width="2"/>
<circle cx="1871.2" cy="528.1" r="6.4" fill="none" stroke="#1ef01e" stroke-width="2"/>
<circle cx="1862.7" cy="546.4" r="6.4" fill="none" stroke="#1ef01e" stroke-width="2"/>
<circle cx="1840.9" cy="575.4" r="6.4" fill="none" stroke="#1ef01e" stroke-width="2"/>
<circle cx="1837.4" cy="582.4" r="6.4" fill="none" stroke="#1ef01e" stroke-width="2"/>
<circle cx="1826.9" cy="591.7" r="6.4" fill="none" stroke="#1ef01e" stroke-width="2"/>
<line x1="186.9" y1="1005.6" x2="186.9" y2="1812.3" stroke="#3a3a3a" stroke-width="4"/>
<line x1="1172" y1="1005.6" x2="1172" y2="1812.3" stroke="#555" stroke-width="3.5"/>
<line x1="184.9" y1="1007.6" x2="1173.8" y2="1007.6" stroke="#333" stroke-width="4"/>
<line x1="184.9" y1="1810.3" x2="1173.8" y2="1810.3" stroke="#1e1e1e" stroke-width="4"/>
<line x1="267.7" y1="1810.3" x2="267.7" y2="1826.3" stroke="#1e1e1e" stroke-width="3"/>
<line x1="432.2" y1="1810.3" x2="432.2" y2="1826.3" stroke="#1e1e1e" stroke-width="3"/>
<line x1="596.7" y1="1810.3" x2="596.7" y2="1826.3" stroke="#1e1e1e" stroke-width="3"/>
<line x1="761.1" y1="1810.3" x2="761.1" y2="1826.3" stroke="#1e1e1e" stroke-width="3"/>
<line x1="925.6" y1="1810.3" x2="925.6" y2="1826.3" stroke="#1e1e1e" stroke-width="3"/>
<line x1="1090.1" y1="1810.3" x2="1090.1" y2="1826.3" stroke="#1e1e1e" stroke-width="3"/>
<line x1="185.5" y1="1810.3" x2="185.5" y2="1818.3" stroke="#1e1e1e" stroke-width="3"/>
<line x1="349.9" y1="1810.3" x2="349.9" y2="1818.3" stroke="#1e1e1e" stroke-width="3"/>
<line x1="514.4" y1="1810.3" x2="514.4" y2="1818.3" stroke="#1e1e1e" stroke-width="3"/>
<line x1="678.9" y1="1810.3" x2="678.9" y2="1818.3" stroke="#1e1e1e" stroke-width="3"/>
<line x1="843.4" y1="1810.3" x2="843.4" y2="1818.3" stroke="#1e1e1e" stroke-width="3"/>
<line x1="1007.9" y1="1810.3" x2="1007.9" y2="1818.3" stroke="#1e1e1e" stroke-width="3"/>
<line x1="1172.3" y1="1810.3" x2="1172.3" y2="1818.3" stroke="#1e1e1e" stroke-width="3"/>
<line x1="170.9" y1="1810.2" x2="186.9" y2="1810.2" stroke="#1e1e1e" stroke-width="3"/>
<line x1="170.9" y1="1709.8" x2="186.9" y2="1709.8" stroke="#1e1e1e" stroke-width="3"/>
<line x1="170.9" y1="1609.3" x2="186.9" y2="1609.3" stroke="#1e1e1e" stroke-width="3"/>
<line x1="170.9" y1="1508.9" x2="186.9" y2="1508.9" stroke="#1e1e1e" stroke-width="3"/>
<line x1="170.9" y1="1408.5" x2="186.9" y2="1408.5" stroke="#1e1e1e" stroke-width="3"/>
<line x1="170.9" y1="1308.1" x2="186.9" y2="1308.1" stroke="#1e1e1e" stroke-width="3"/>
<line x1="170.9" y1="1207.7" x2="186.9" y2="1207.7" stroke="#1e1e1e" stroke-width="3"/>
<line x1="170.9" y1="1107.2" x2="186.9" y2="1107.2" stroke="#1e1e1e" stroke-width="3"/>
<line x1="170.9" y1="1006.8" x2="186.9" y2="1006.8" stroke="#1e1e1e" stroke-width="3"/>
<line x1="178.9" y1="1760" x2="186.9" y2="1760" stroke="#1e1e1e" stroke-width="3"/>
<line x1="178.9" y1="1659.6" x2="186.9" y2="1659.6" stroke="#1e1e1e" stroke-width="3"/>
<line x1="178.9" y1="1559.1" x2="186.9" y2="1559.1" stroke="#1e1e1e" stroke-width="3"/>
<line x1="178.9" y1="1458.7" x2="186.9" y2="1458.7" stroke="#1e1e1e" stroke-width="3"/>
<line x1="178.9" y1="1358.3" x2="186.9" y2="1358.3" stroke="#1e1e1e" stroke-width="3"/>
<line x1="178.9" y1="1257.9" x2="186.9" y2="1257.9" stroke="#1e1e1e" stroke-width="3"/>
<line x1="178.9" y1="1157.4" x2="186.9" y2="1157.4" stroke="#1e1e1e" stroke-width="3"/>
<line x1="178.9" y1="1057" x2="186.9" y2="1057" stroke="#1e1e1e" stroke-width="3"/>
<text x="244.9" y="1863.3" font-size="33" textLength="46.8" lengthAdjust="spacingAndGlyphs" fill="#111">0.0</text>
<text x="409.6" y="1863.3" font-size="33" textLength="46.8" lengthAdjust="spacingAndGlyphs" fill="#111">0.2</text>
<text x="573.7" y="1863.3" font-size="33" textLength="46.8" lengthAdjust="spacingAndGlyphs" fill="#111">0.4</text>
<text x="738.4" y="1863.3" font-size="33" textLength="46.8" lengthAdjust="spacingAndGlyphs" fill="#111">0.6</text>
<text x="902.9" y="1863.3" font-size="33" textLength="46.8" lengthAdjust="spacingAndGlyphs" fill="#111">0.8</text>
<text x="1066.7" y="1863.3" font-size="33" textLength="46.8" lengthAdjust="spacingAndGlyphs" fill="#111">1.0</text>
<text x="140.5" y="1821.4" font-size="33" textLength="18.7" lengthAdjust="spacingAndGlyphs" fill="#111">0</text>
<text x="121.8" y="1721" font-size="33" textLength="37.4" lengthAdjust="spacingAndGlyphs" fill="#111">50</text>
<text x="103.1" y="1620.5" font-size="33" textLength="56.2" lengthAdjust="spacingAndGlyphs" fill="#111">100</text>
<text x="103.1" y="1520.1" font-size="33" textLength="56.2" lengthAdjust="spacingAndGlyphs" fill="#111">150</text>
<text x="103.1" y="1419.7" font-size="33" textLength="56.2" lengthAdjust="spacingAndGlyphs" fill="#111">200</text>
<text x="103.1" y="1319.3" font-size="33" textLength="56.2" lengthAdjust="spacingAndGlyphs" fill="#111">250</text>
<text x="103.1" y="1218.9" font-size="33" textLength="56.2" lengthAdjust="spacingAndGlyphs" fill="#111">300</text>
<text x="103.1" y="1118.4" font-size="33" textLength="56.2" lengthAdjust="spacingAndGlyphs" fill="#111">350</text>
<text x="103.1" y="1018" font-size="33" textLength="56.2" lengthAdjust="spacingAndGlyphs" fill="#111">400</text>
<text x="200.8" y="1065.4" font-size="61.1" textLength="73.3" lengthAdjust="spacingAndGlyphs" fill="#111">(c)</text>
<text x="88.4" y="1733.5" font-size="42" fill="#111" textLength="585" lengthAdjust="spacingAndGlyphs" transform="rotate(-90 88.4 1733.5)">Quantity Adsorbed (cm<tspan font-size="26" dy="-15.1">3</tspan><tspan dy="15.1">/g STP)</tspan></text>
<text x="641.6" y="1903.8" font-size="40.6" textLength="68.9" lengthAdjust="spacingAndGlyphs" fill="#111">P/P</text>
<clipPath id="scc"><rect x="0" y="0" width="2416" height="1911.5"/></clipPath>
<text x="709.5" y="1916.3" font-size="27.4" textLength="14.9" lengthAdjust="spacingAndGlyphs" fill="#111" clip-path="url(#scc)">0</text>
<rect x="263.4" y="1090.4" width="414" height="329.5" fill="#fff" stroke="none"/>
<rect x="266" y="1412.9" width="4" height="7" fill="#11dddd"/>
<rect x="270" y="1380.4" width="8" height="39.5" fill="#11dddd"/>
<rect x="272" y="1393.6" width="10" height="26.3" fill="#222"/>
<rect x="277.9" y="1121.4" width="9.2" height="298.5" fill="#11dddd"/>
<rect x="285.5" y="1121.4" width="2" height="298.5" fill="#111"/>
<rect x="286" y="1395.3" width="4" height="24.6" fill="#222"/>
<rect x="287.1" y="1415.5" width="7.9" height="4.4" fill="#11dddd"/>
<rect x="295" y="1418.6" width="382" height="1.3" fill="#11cccc"/>
<rect x="263.4" y="1090.4" width="414" height="329.5" fill="none" stroke="#111" stroke-width="3"/>
<line x1="266.8" y1="1419.9" x2="266.8" y2="1425.9" stroke="#111" stroke-width="2"/>
<line x1="369.4" y1="1419.9" x2="369.4" y2="1425.9" stroke="#111" stroke-width="2"/>
<line x1="472" y1="1419.9" x2="472" y2="1425.9" stroke="#111" stroke-width="2"/>
<line x1="574.6" y1="1419.9" x2="574.6" y2="1425.9" stroke="#111" stroke-width="2"/>
<line x1="677.2" y1="1419.9" x2="677.2" y2="1425.9" stroke="#111" stroke-width="2"/>
<line x1="318.1" y1="1419.9" x2="318.1" y2="1422.9" stroke="#111" stroke-width="2"/>
<line x1="420.7" y1="1419.9" x2="420.7" y2="1422.9" stroke="#111" stroke-width="2"/>
<line x1="523.3" y1="1419.9" x2="523.3" y2="1422.9" stroke="#111" stroke-width="2"/>
<line x1="625.9" y1="1419.9" x2="625.9" y2="1422.9" stroke="#111" stroke-width="2"/>
<line x1="257.4" y1="1419.9" x2="263.4" y2="1419.9" stroke="#111" stroke-width="2"/>
<line x1="257.4" y1="1376" x2="263.4" y2="1376" stroke="#111" stroke-width="2"/>
<line x1="257.4" y1="1332.1" x2="263.4" y2="1332.1" stroke="#111" stroke-width="2"/>
<line x1="257.4" y1="1288.2" x2="263.4" y2="1288.2" stroke="#111" stroke-width="2"/>
<line x1="257.4" y1="1244.3" x2="263.4" y2="1244.3" stroke="#111" stroke-width="2"/>
<line x1="257.4" y1="1200.4" x2="263.4" y2="1200.4" stroke="#111" stroke-width="2"/>
<line x1="257.4" y1="1156.5" x2="263.4" y2="1156.5" stroke="#111" stroke-width="2"/>
<line x1="257.4" y1="1112.6" x2="263.4" y2="1112.6" stroke="#111" stroke-width="2"/>
<line x1="260.4" y1="1398" x2="263.4" y2="1398" stroke="#111" stroke-width="2"/>
<line x1="260.4" y1="1354.1" x2="263.4" y2="1354.1" stroke="#111" stroke-width="2"/>
<line x1="260.4" y1="1310.2" x2="263.4" y2="1310.2" stroke="#111" stroke-width="2"/>
<line x1="260.4" y1="1266.2" x2="263.4" y2="1266.2" stroke="#111" stroke-width="2"/>
<line x1="260.4" y1="1222.4" x2="263.4" y2="1222.4" stroke="#111" stroke-width="2"/>
<line x1="260.4" y1="1178.5" x2="263.4" y2="1178.5" stroke="#111" stroke-width="2"/>
<line x1="260.4" y1="1134.6" x2="263.4" y2="1134.6" stroke="#111" stroke-width="2"/>
<line x1="260.4" y1="1090.7" x2="263.4" y2="1090.7" stroke="#111" stroke-width="2"/>
<text x="266.8" y="1445" font-size="13" text-anchor="middle" fill="#444">0</text>
<text x="369.4" y="1445" font-size="13" text-anchor="middle" fill="#444">50</text>
<text x="472" y="1445" font-size="13" text-anchor="middle" fill="#444">100</text>
<text x="574.6" y="1445" font-size="13" text-anchor="middle" fill="#444">150</text>
<text x="677.2" y="1445" font-size="13" text-anchor="middle" fill="#444">200</text>
<text x="233.5" y="1424.5" font-size="13" textLength="22.6" lengthAdjust="spacingAndGlyphs" fill="#444">0.0</text>
<text x="233.6" y="1380.6" font-size="13" textLength="22.6" lengthAdjust="spacingAndGlyphs" fill="#444">0.5</text>
<text x="233.5" y="1336.7" font-size="13" textLength="22.6" lengthAdjust="spacingAndGlyphs" fill="#444">1.0</text>
<text x="233.6" y="1292.8" font-size="13" textLength="22.6" lengthAdjust="spacingAndGlyphs" fill="#444">1.5</text>
<text x="233.5" y="1248.9" font-size="13" textLength="22.6" lengthAdjust="spacingAndGlyphs" fill="#444">2.0</text>
<text x="233.6" y="1205" font-size="13" textLength="22.6" lengthAdjust="spacingAndGlyphs" fill="#444">2.5</text>
<text x="233.5" y="1161.1" font-size="13" textLength="22.6" lengthAdjust="spacingAndGlyphs" fill="#444">3.0</text>
<text x="233.6" y="1117.2" font-size="13" textLength="22.6" lengthAdjust="spacingAndGlyphs" fill="#444">3.5</text>
<text x="219.8" y="1363" font-size="14" font-weight="normal" fill="#333" textLength="159" lengthAdjust="spacingAndGlyphs" transform="rotate(-90 219.8 1363)">Pore Volume (cm<tspan font-size="8.7" dy="-5">3</tspan><tspan dy="5">/g)</tspan></text>
<text x="434.5" y="1463" font-size="15" textLength="127" lengthAdjust="spacingAndGlyphs" fill="#333">Pore Width (nm)</text>
<path d="M269.1,1740.8 L285.4,1692 L306.3,1673.3 L335.4,1657 L355.2,1648.9 L379.6,1638.4 L392.4,1633.8 L412.2,1628 L433.1,1621 L454.1,1615.2 L475,1607 L495.9,1601.2 L515.7,1594.2 L534.3,1589.6 L552.9,1583.8 L576.2,1574.5 L613.4,1561.7 L646,1552.3 L677.4,1538.2 L710.5,1523.8 L742.2,1506.5 L775.3,1487.8 L807,1461.9 L838.7,1430.2 L857.4,1385.5 L867.5,1351 L870.3,1322.2 L876.1,1271.8 L881.9,1221.4 L891.9,1178.2 L910.7,1158 L943.8,1147.9 L979.8,1139.3 L999.9,1133.5 L1005.9,1131.7 L1012,1129.9 L1018.1,1128.1 L1024.1,1126.4 L1030.1,1124.5 L1036,1122.3 L1042,1120.1 L1047.6,1117.3 L1053,1114.1 L1058.4,1110.8 L1063.5,1107.1 L1068.5,1103.3 L1072.8,1098.7 L1076.6,1093.7 L1080,1088.4 L1082.9,1082.8 L1085.1,1077 L1085.7,1070.7 L1086.3,1064.4" fill="none" stroke="#14e8ee" stroke-width="2" stroke-linejoin="round"/>
<path d="M910.7,1153.7 L879,1162.3 L848.7,1175.3 L812.7,1192.6 L778.2,1219.9 L755.1,1257.4 L746.5,1280.4 L735,1329.4 L724.9,1366.8 L716.2,1395.6 L701.8,1446 L688.9,1479.1 L681.7,1489.2 L657.2,1528.1 L649.5,1539.6 L646,1552.3" fill="none" stroke="#14e8ee" stroke-width="2" stroke-linejoin="round"/>
<circle cx="269.1" cy="1740.8" r="5.9" fill="none" stroke="#14e8ee" stroke-width="2"/>
<circle cx="285.4" cy="1692" r="5.9" fill="none" stroke="#14e8ee" stroke-width="2"/>
<circle cx="306.3" cy="1673.3" r="5.9" fill="none" stroke="#14e8ee" stroke-width="2"/>
<circle cx="335.4" cy="1657" r="5.9" fill="none" stroke="#14e8ee" stroke-width="2"/>
<circle cx="355.2" cy="1648.9" r="5.9" fill="none" stroke="#14e8ee" stroke-width="2"/>
<circle cx="379.6" cy="1638.4" r="5.9" fill="none" stroke="#14e8ee" stroke-width="2"/>
<circle cx="392.4" cy="1633.8" r="5.9" fill="none" stroke="#14e8ee" stroke-width="2"/>
<circle cx="412.2" cy="1628" r="5.9" fill="none" stroke="#14e8ee" stroke-width="2"/>
<circle cx="433.1" cy="1621" r="5.9" fill="none" stroke="#14e8ee" stroke-width="2"/>
<circle cx="454.1" cy="1615.2" r="5.9" fill="none" stroke="#14e8ee" stroke-width="2"/>
<circle cx="475" cy="1607" r="5.9" fill="none" stroke="#14e8ee" stroke-width="2"/>
<circle cx="495.9" cy="1601.2" r="5.9" fill="none" stroke="#14e8ee" stroke-width="2"/>
<circle cx="515.7" cy="1594.2" r="5.9" fill="none" stroke="#14e8ee" stroke-width="2"/>
<circle cx="534.3" cy="1589.6" r="5.9" fill="none" stroke="#14e8ee" stroke-width="2"/>
<circle cx="552.9" cy="1583.8" r="5.9" fill="none" stroke="#14e8ee" stroke-width="2"/>
<circle cx="576.2" cy="1574.5" r="5.9" fill="none" stroke="#14e8ee" stroke-width="2"/>
<circle cx="613.4" cy="1561.7" r="5.9" fill="none" stroke="#14e8ee" stroke-width="2"/>
<circle cx="646" cy="1552.3" r="5.9" fill="none" stroke="#14e8ee" stroke-width="2"/>
<circle cx="677.4" cy="1538.2" r="5.9" fill="none" stroke="#14e8ee" stroke-width="2"/>
<circle cx="710.5" cy="1523.8" r="5.9" fill="none" stroke="#14e8ee" stroke-width="2"/>
<circle cx="742.2" cy="1506.5" r="5.9" fill="none" stroke="#14e8ee" stroke-width="2"/>
<circle cx="775.3" cy="1487.8" r="5.9" fill="none" stroke="#14e8ee" stroke-width="2"/>
<circle cx="807" cy="1461.9" r="5.9" fill="none" stroke="#14e8ee" stroke-width="2"/>
<circle cx="838.7" cy="1430.2" r="5.9" fill="none" stroke="#14e8ee" stroke-width="2"/>
<circle cx="857.4" cy="1385.5" r="5.9" fill="none" stroke="#14e8ee" stroke-width="2"/>
<circle cx="867.5" cy="1351" r="5.9" fill="none" stroke="#14e8ee" stroke-width="2"/>
<circle cx="870.3" cy="1322.2" r="5.9" fill="none" stroke="#14e8ee" stroke-width="2"/>
<circle cx="876.1" cy="1271.8" r="5.9" fill="none" stroke="#14e8ee" stroke-width="2"/>
<circle cx="881.9" cy="1221.4" r="5.9" fill="none" stroke="#14e8ee" stroke-width="2"/>
<circle cx="891.9" cy="1178.2" r="5.9" fill="none" stroke="#14e8ee" stroke-width="2"/>
<circle cx="910.7" cy="1158" r="5.9" fill="none" stroke="#14e8ee" stroke-width="2"/>
<circle cx="943.8" cy="1147.9" r="5.9" fill="none" stroke="#14e8ee" stroke-width="2"/>
<circle cx="979.8" cy="1139.3" r="5.9" fill="none" stroke="#14e8ee" stroke-width="2"/>
<circle cx="999.9" cy="1133.5" r="5.9" fill="none" stroke="#14e8ee" stroke-width="2"/>
<circle cx="1005.9" cy="1131.7" r="5.9" fill="none" stroke="#14e8ee" stroke-width="2"/>
<circle cx="1012" cy="1129.9" r="5.9" fill="none" stroke="#14e8ee" stroke-width="2"/>
<circle cx="1018.1" cy="1128.1" r="5.9" fill="none" stroke="#14e8ee" stroke-width="2"/>
<circle cx="1024.1" cy="1126.4" r="5.9" fill="none" stroke="#14e8ee" stroke-width="2"/>
<circle cx="1030.1" cy="1124.5" r="5.9" fill="none" stroke="#14e8ee" stroke-width="2"/>
<circle cx="1036" cy="1122.3" r="5.9" fill="none" stroke="#14e8ee" stroke-width="2"/>
<circle cx="1042" cy="1120.1" r="5.9" fill="none" stroke="#14e8ee" stroke-width="2"/>
<circle cx="1047.6" cy="1117.3" r="5.9" fill="none" stroke="#14e8ee" stroke-width="2"/>
<circle cx="1053" cy="1114.1" r="5.9" fill="none" stroke="#14e8ee" stroke-width="2"/>
<circle cx="1058.4" cy="1110.8" r="5.9" fill="none" stroke="#14e8ee" stroke-width="2"/>
<circle cx="1063.5" cy="1107.1" r="5.9" fill="none" stroke="#14e8ee" stroke-width="2"/>
<circle cx="1068.5" cy="1103.3" r="5.9" fill="none" stroke="#14e8ee" stroke-width="2"/>
<circle cx="1072.8" cy="1098.7" r="5.9" fill="none" stroke="#14e8ee" stroke-width="2"/>
<circle cx="1076.6" cy="1093.7" r="5.9" fill="none" stroke="#14e8ee" stroke-width="2"/>
<circle cx="1080" cy="1088.4" r="5.9" fill="none" stroke="#14e8ee" stroke-width="2"/>
<circle cx="1082.9" cy="1082.8" r="5.9" fill="none" stroke="#14e8ee" stroke-width="2"/>
<circle cx="1085.1" cy="1077" r="5.9" fill="none" stroke="#14e8ee" stroke-width="2"/>
<circle cx="1085.7" cy="1070.7" r="5.9" fill="none" stroke="#14e8ee" stroke-width="2"/>
<circle cx="1086.3" cy="1064.4" r="5.9" fill="none" stroke="#14e8ee" stroke-width="2"/>
<circle cx="910.7" cy="1153.7" r="5.9" fill="none" stroke="#14e8ee" stroke-width="2"/>
<circle cx="879" cy="1162.3" r="5.9" fill="none" stroke="#14e8ee" stroke-width="2"/>
<circle cx="848.7" cy="1175.3" r="5.9" fill="none" stroke="#14e8ee" stroke-width="2"/>
<circle cx="812.7" cy="1192.6" r="5.9" fill="none" stroke="#14e8ee" stroke-width="2"/>
<circle cx="778.2" cy="1219.9" r="5.9" fill="none" stroke="#14e8ee" stroke-width="2"/>
<circle cx="755.1" cy="1257.4" r="5.9" fill="none" stroke="#14e8ee" stroke-width="2"/>
<circle cx="746.5" cy="1280.4" r="5.9" fill="none" stroke="#14e8ee" stroke-width="2"/>
<circle cx="735" cy="1329.4" r="5.9" fill="none" stroke="#14e8ee" stroke-width="2"/>
<circle cx="724.9" cy="1366.8" r="5.9" fill="none" stroke="#14e8ee" stroke-width="2"/>
<circle cx="716.2" cy="1395.6" r="5.9" fill="none" stroke="#14e8ee" stroke-width="2"/>
<circle cx="701.8" cy="1446" r="5.9" fill="none" stroke="#14e8ee" stroke-width="2"/>
<circle cx="688.9" cy="1479.1" r="5.9" fill="none" stroke="#14e8ee" stroke-width="2"/>
<circle cx="681.7" cy="1489.2" r="5.9" fill="none" stroke="#14e8ee" stroke-width="2"/>
<circle cx="657.2" cy="1528.1" r="5.9" fill="none" stroke="#14e8ee" stroke-width="2"/>
<circle cx="649.5" cy="1539.6" r="5.9" fill="none" stroke="#14e8ee" stroke-width="2"/>
<circle cx="646" cy="1552.3" r="5.9" fill="none" stroke="#14e8ee" stroke-width="2"/>
<line x1="1361" y1="1004.6" x2="1361" y2="1812.5" stroke="#151515" stroke-width="3.3"/>
<line x1="2351.5" y1="1004.6" x2="2351.5" y2="1812.5" stroke="#151515" stroke-width="3.3"/>
<line x1="1359.3" y1="1006.3" x2="2353.2" y2="1006.3" stroke="#151515" stroke-width="3.3"/>
<line x1="1359.3" y1="1810.8" x2="2353.2" y2="1810.8" stroke="#151515" stroke-width="3.3"/>
<line x1="1443.9" y1="1810.8" x2="1443.9" y2="1826.8" stroke="#151515" stroke-width="3"/>
<line x1="1609.1" y1="1810.8" x2="1609.1" y2="1826.8" stroke="#151515" stroke-width="3"/>
<line x1="1774.2" y1="1810.8" x2="1774.2" y2="1826.8" stroke="#151515" stroke-width="3"/>
<line x1="1939.4" y1="1810.8" x2="1939.4" y2="1826.8" stroke="#151515" stroke-width="3"/>
<line x1="2104.5" y1="1810.8" x2="2104.5" y2="1826.8" stroke="#151515" stroke-width="3"/>
<line x1="2269.7" y1="1810.8" x2="2269.7" y2="1826.8" stroke="#151515" stroke-width="3"/>
<line x1="1361.3" y1="1810.8" x2="1361.3" y2="1818.8" stroke="#151515" stroke-width="3"/>
<line x1="1526.5" y1="1810.8" x2="1526.5" y2="1818.8" stroke="#151515" stroke-width="3"/>
<line x1="1691.6" y1="1810.8" x2="1691.6" y2="1818.8" stroke="#151515" stroke-width="3"/>
<line x1="1856.8" y1="1810.8" x2="1856.8" y2="1818.8" stroke="#151515" stroke-width="3"/>
<line x1="2022" y1="1810.8" x2="2022" y2="1818.8" stroke="#151515" stroke-width="3"/>
<line x1="2187.1" y1="1810.8" x2="2187.1" y2="1818.8" stroke="#151515" stroke-width="3"/>
<line x1="2352.3" y1="1810.8" x2="2352.3" y2="1818.8" stroke="#151515" stroke-width="3"/>
<line x1="1345" y1="1810.8" x2="1361" y2="1810.8" stroke="#151515" stroke-width="3"/>
<line x1="1345" y1="1695.7" x2="1361" y2="1695.7" stroke="#151515" stroke-width="3"/>
<line x1="1345" y1="1580.7" x2="1361" y2="1580.7" stroke="#151515" stroke-width="3"/>
<line x1="1345" y1="1465.6" x2="1361" y2="1465.6" stroke="#151515" stroke-width="3"/>
<line x1="1345" y1="1350.6" x2="1361" y2="1350.6" stroke="#151515" stroke-width="3"/>
<line x1="1345" y1="1235.5" x2="1361" y2="1235.5" stroke="#151515" stroke-width="3"/>
<line x1="1345" y1="1120.5" x2="1361" y2="1120.5" stroke="#151515" stroke-width="3"/>
<line x1="1345" y1="1005.4" x2="1361" y2="1005.4" stroke="#151515" stroke-width="3"/>
<line x1="1353" y1="1753.3" x2="1361" y2="1753.3" stroke="#151515" stroke-width="3"/>
<line x1="1353" y1="1638.2" x2="1361" y2="1638.2" stroke="#151515" stroke-width="3"/>
<line x1="1353" y1="1523.2" x2="1361" y2="1523.2" stroke="#151515" stroke-width="3"/>
<line x1="1353" y1="1408.1" x2="1361" y2="1408.1" stroke="#151515" stroke-width="3"/>
<line x1="1353" y1="1293.1" x2="1361" y2="1293.1" stroke="#151515" stroke-width="3"/>
<line x1="1353" y1="1178" x2="1361" y2="1178" stroke="#151515" stroke-width="3"/>
<line x1="1353" y1="1062.9" x2="1361" y2="1062.9" stroke="#151515" stroke-width="3"/>
<text x="1421.3" y="1864.5" font-size="38.5" textLength="52.4" lengthAdjust="spacingAndGlyphs" fill="#111">0.0</text>
<text x="1586.6" y="1864.5" font-size="38.5" textLength="52.4" lengthAdjust="spacingAndGlyphs" fill="#111">0.2</text>
<text x="1751.4" y="1864.5" font-size="38.5" textLength="52.4" lengthAdjust="spacingAndGlyphs" fill="#111">0.4</text>
<text x="1916.8" y="1864.5" font-size="38.5" textLength="52.4" lengthAdjust="spacingAndGlyphs" fill="#111">0.6</text>
<text x="2082" y="1864.5" font-size="38.5" textLength="52.4" lengthAdjust="spacingAndGlyphs" fill="#111">0.8</text>
<text x="2246.4" y="1864.5" font-size="38.5" textLength="52.4" lengthAdjust="spacingAndGlyphs" fill="#111">1.0</text>
<text x="1319.2" y="1820.3" font-size="38.5" textLength="21" lengthAdjust="spacingAndGlyphs" fill="#111">0</text>
<text x="1298.2" y="1705.2" font-size="38.5" textLength="42" lengthAdjust="spacingAndGlyphs" fill="#111">50</text>
<text x="1277.2" y="1590.2" font-size="38.5" textLength="63" lengthAdjust="spacingAndGlyphs" fill="#111">100</text>
<text x="1277.2" y="1475.1" font-size="38.5" textLength="63" lengthAdjust="spacingAndGlyphs" fill="#111">150</text>
<text x="1277.2" y="1360.1" font-size="38.5" textLength="63" lengthAdjust="spacingAndGlyphs" fill="#111">200</text>
<text x="1277.2" y="1245" font-size="38.5" textLength="63" lengthAdjust="spacingAndGlyphs" fill="#111">250</text>
<text x="1277.2" y="1130" font-size="38.5" textLength="63" lengthAdjust="spacingAndGlyphs" fill="#111">300</text>
<text x="1277.2" y="1014.9" font-size="38.5" textLength="63" lengthAdjust="spacingAndGlyphs" fill="#111">350</text>
<text x="1376.4" y="1065.1" font-size="60.1" textLength="75.9" lengthAdjust="spacingAndGlyphs" fill="#111">(d)</text>
<text x="1262" y="1725" font-size="39" fill="#111" textLength="550" lengthAdjust="spacingAndGlyphs" transform="rotate(-90 1262 1725)">Quantity Adsorbed (cm<tspan font-size="24.2" dy="-14">3</tspan><tspan dy="14">/g STP)</tspan></text>
<text x="1821.2" y="1897.3" font-size="44" textLength="72.1" lengthAdjust="spacingAndGlyphs" fill="#111">P/P</text>
<text x="1888" y="1908.8" font-size="25.3" textLength="16.3" lengthAdjust="spacingAndGlyphs" fill="#111">0</text>
<rect x="1441.1" y="1080.3" width="381.3" height="310" fill="#fff" stroke="none"/>
<rect x="1441.5" y="1330.7" width="7.2" height="59.6" fill="#1111ff"/>
<rect x="1448.7" y="1108.9" width="7.3" height="281.4" fill="#1111ff"/>
<rect x="1443" y="1347.4" width="6" height="42.9" fill="#111"/>
<rect x="1449.5" y="1290.1" width="8.5" height="100.2" fill="#111"/>
<rect x="1456" y="1271" width="3.5" height="119.2" fill="#111"/>
<rect x="1458.9" y="1375.8" width="62.8" height="14.5" fill="#1111ff"/>
<rect x="1524.9" y="1375.8" width="7.5" height="14.5" fill="#1111ff"/>
<rect x="1538.9" y="1375.8" width="7.5" height="14.5" fill="#1111ff"/>
<rect x="1559.8" y="1375.8" width="7.5" height="14.5" fill="#1111ff"/>
<rect x="1583.6" y="1375.8" width="7.5" height="14.5" fill="#1111ff"/>
<rect x="1607.3" y="1375.8" width="7.5" height="14.5" fill="#1111ff"/>
<rect x="1637" y="1375.8" width="7.5" height="14.5" fill="#1111ff"/>
<rect x="1676.5" y="1375.8" width="7.5" height="14.5" fill="#1111ff"/>
<rect x="1732.7" y="1375.8" width="7.5" height="14.5" fill="#1111ff"/>
<rect x="1802.9" y="1375.8" width="7.5" height="14.5" fill="#1111ff"/>
<line x1="1439.8" y1="1080.3" x2="1823.7" y2="1080.3" stroke="#444" stroke-width="2.5"/>
<line x1="1822.4" y1="1080.3" x2="1822.4" y2="1390.3" stroke="#555" stroke-width="2.5"/>
<line x1="1441.1" y1="1080.3" x2="1441.1" y2="1390.3" stroke="#888" stroke-width="3.5"/>
<line x1="1439.6" y1="1390.3" x2="1823.9" y2="1390.3" stroke="#111" stroke-width="3"/>
<line x1="1441.2" y1="1390.3" x2="1441.2" y2="1396.3" stroke="#555" stroke-width="2"/>
<line x1="1514.7" y1="1390.3" x2="1514.7" y2="1396.3" stroke="#555" stroke-width="2"/>
<line x1="1588.2" y1="1390.3" x2="1588.2" y2="1396.3" stroke="#555" stroke-width="2"/>
<line x1="1661.7" y1="1390.3" x2="1661.7" y2="1396.3" stroke="#555" stroke-width="2"/>
<line x1="1735.2" y1="1390.3" x2="1735.2" y2="1396.3" stroke="#555" stroke-width="2"/>
<line x1="1808.7" y1="1390.3" x2="1808.7" y2="1396.3" stroke="#555" stroke-width="2"/>
<line x1="1478" y1="1390.3" x2="1478" y2="1393.3" stroke="#555" stroke-width="2"/>
<line x1="1551.5" y1="1390.3" x2="1551.5" y2="1393.3" stroke="#555" stroke-width="2"/>
<line x1="1625" y1="1390.3" x2="1625" y2="1393.3" stroke="#555" stroke-width="2"/>
<line x1="1698.5" y1="1390.3" x2="1698.5" y2="1393.3" stroke="#555" stroke-width="2"/>
<line x1="1772" y1="1390.3" x2="1772" y2="1393.3" stroke="#555" stroke-width="2"/>
<line x1="1435.1" y1="1390.3" x2="1441.1" y2="1390.3" stroke="#555" stroke-width="2"/>
<line x1="1435.1" y1="1342.6" x2="1441.1" y2="1342.6" stroke="#555" stroke-width="2"/>
<line x1="1435.1" y1="1294.9" x2="1441.1" y2="1294.9" stroke="#555" stroke-width="2"/>
<line x1="1435.1" y1="1247.2" x2="1441.1" y2="1247.2" stroke="#555" stroke-width="2"/>
<line x1="1435.1" y1="1199.5" x2="1441.1" y2="1199.5" stroke="#555" stroke-width="2"/>
<line x1="1435.1" y1="1151.8" x2="1441.1" y2="1151.8" stroke="#555" stroke-width="2"/>
<line x1="1435.1" y1="1104.1" x2="1441.1" y2="1104.1" stroke="#555" stroke-width="2"/>
<line x1="1438.1" y1="1366.5" x2="1441.1" y2="1366.5" stroke="#555" stroke-width="2"/>
<line x1="1438.1" y1="1318.8" x2="1441.1" y2="1318.8" stroke="#555" stroke-width="2"/>
<line x1="1438.1" y1="1271" x2="1441.1" y2="1271" stroke="#555" stroke-width="2"/>
<line x1="1438.1" y1="1223.3" x2="1441.1" y2="1223.3" stroke="#555" stroke-width="2"/>
<line x1="1438.1" y1="1175.6" x2="1441.1" y2="1175.6" stroke="#555" stroke-width="2"/>
<line x1="1438.1" y1="1127.9" x2="1441.1" y2="1127.9" stroke="#555" stroke-width="2"/>
<text x="1441.2" y="1413.5" font-size="14" text-anchor="middle" fill="#444">0</text>
<text x="1514.7" y="1413.5" font-size="14" text-anchor="middle" fill="#444">50</text>
<text x="1588.2" y="1413.5" font-size="14" text-anchor="middle" fill="#444">100</text>
<text x="1661.7" y="1413.5" font-size="14" text-anchor="middle" fill="#444">150</text>
<text x="1735.2" y="1413.5" font-size="14" text-anchor="middle" fill="#444">200</text>
<text x="1808.7" y="1413.5" font-size="14" text-anchor="middle" fill="#444">250</text>
<text x="1437" y="1396" font-size="14" text-anchor="end" fill="#444">0.0</text>
<text x="1437" y="1348.3" font-size="14" text-anchor="end" fill="#444">0.2</text>
<text x="1437" y="1300.6" font-size="14" text-anchor="end" fill="#444">0.4</text>
<text x="1437" y="1252.9" font-size="14" text-anchor="end" fill="#444">0.6</text>
<text x="1437" y="1205.2" font-size="14" text-anchor="end" fill="#444">0.8</text>
<text x="1437" y="1157.5" font-size="14" text-anchor="end" fill="#444">1.0</text>
<text x="1437" y="1109.8" font-size="14" text-anchor="end" fill="#444">1.2</text>
<text x="1403" y="1351" font-size="19" font-weight="normal" fill="#222" textLength="201" lengthAdjust="spacingAndGlyphs" transform="rotate(-90 1403 1351)">Pore Volume (cm<tspan font-size="11.8" dy="-6.8">3</tspan><tspan dy="6.8">/g)</tspan></text>
<text x="1553" y="1434.5" font-size="21" textLength="156" lengthAdjust="spacingAndGlyphs" fill="#222">Pore Width (nm)</text>
<path d="M1444.4,1731.5 L1453.7,1665.2 L1488.6,1625.7 L1501.4,1617.5 L1516.6,1609.4 L1532.8,1600.1 L1554.9,1589.6 L1568.9,1582.6 L1588.7,1574.5 L1609.6,1565.2 L1629.4,1557 L1650.3,1547.7 L1673.6,1539.6 L1693.4,1530.3 L1709.7,1524.5 L1724.8,1517.5 L1755,1505.8 L1791.1,1490.7 L1822.8,1476.9 L1853.2,1461.7 L1887.4,1442.7 L1917.8,1423.7 L1950.8,1398.3 L1981.2,1364.1 L1991.3,1351.4 L2010.3,1310.9 L2021.7,1289.3 L2042,1251.3 L2050.9,1245 L2054.7,1238.7 L2086.4,1226 L2124.4,1217.1 L2157.3,1208.3 L2175.1,1203.2 L2181.1,1206.6 L2187.9,1203.9 L2194.8,1201.1 L2201.6,1198.4 L2208.2,1195.1 L2214.4,1191.2 L2220.7,1187.3 L2226.7,1183.2 L2231.9,1178 L2237.1,1172.8 L2242.1,1167.4 L2246.3,1161.4 L2250.6,1155.4 L2254.5,1149.2 L2257.4,1142.4 L2260.3,1135.7 L2262.6,1128.7 L2264.6,1121.6 L2266.5,1114.5 L2267.5,1107.2 L2268.5,1099.9 L2269.4,1092.6 L2270.1,1085.3" fill="none" stroke="#1a1aff" stroke-width="2" stroke-linejoin="round"/>
<path d="M2266.3,1085.3 L2263.3,1091.9 L2261,1098.7 L2258.7,1105.6 L2256.4,1112.4 L2254.1,1119.3 L2251.1,1125.8 L2247.9,1132.3 L2244.6,1138.7 L2241.4,1145.2 L2238.1,1151.6 L2233.4,1157.1 L2228.8,1162.7 L2223.9,1167.9 L2218.4,1172.6 L2212.8,1177.2 L2207,1181.5 L2201,1185.5 L2194.9,1189.4 L2188.3,1192.3 L2181.7,1195.2 L2175.1,1198.1 L2086.4,1224.7 L2056,1228.5 L2023,1236.1 L1990.1,1242.5 L1957.1,1248.8 L1924.2,1257.7 L1887.4,1279.2 L1857.8,1307.1 L1837.5,1355.2 L1834.2,1398.3 L1829.1,1432.5 L1822.8,1459.1 L1791.1,1490.7" fill="none" stroke="#1a1aff" stroke-width="2" stroke-linejoin="round"/>
<circle cx="1444.4" cy="1731.5" r="6.4" fill="none" stroke="#1a1aff" stroke-width="2"/>
<circle cx="1453.7" cy="1665.2" r="6.4" fill="none" stroke="#1a1aff" stroke-width="2"/>
<circle cx="1488.6" cy="1625.7" r="6.4" fill="none" stroke="#1a1aff" stroke-width="2"/>
<circle cx="1501.4" cy="1617.5" r="6.4" fill="none" stroke="#1a1aff" stroke-width="2"/>
<circle cx="1516.6" cy="1609.4" r="6.4" fill="none" stroke="#1a1aff" stroke-width="2"/>
<circle cx="1532.8" cy="1600.1" r="6.4" fill="none" stroke="#1a1aff" stroke-width="2"/>
<circle cx="1554.9" cy="1589.6" r="6.4" fill="none" stroke="#1a1aff" stroke-width="2"/>
<circle cx="1568.9" cy="1582.6" r="6.4" fill="none" stroke="#1a1aff" stroke-width="2"/>
<circle cx="1588.7" cy="1574.5" r="6.4" fill="none" stroke="#1a1aff" stroke-width="2"/>
<circle cx="1609.6" cy="1565.2" r="6.4" fill="none" stroke="#1a1aff" stroke-width="2"/>
<circle cx="1629.4" cy="1557" r="6.4" fill="none" stroke="#1a1aff" stroke-width="2"/>
<circle cx="1650.3" cy="1547.7" r="6.4" fill="none" stroke="#1a1aff" stroke-width="2"/>
<circle cx="1673.6" cy="1539.6" r="6.4" fill="none" stroke="#1a1aff" stroke-width="2"/>
<circle cx="1693.4" cy="1530.3" r="6.4" fill="none" stroke="#1a1aff" stroke-width="2"/>
<circle cx="1709.7" cy="1524.5" r="6.4" fill="none" stroke="#1a1aff" stroke-width="2"/>
<circle cx="1724.8" cy="1517.5" r="6.4" fill="none" stroke="#1a1aff" stroke-width="2"/>
<circle cx="1755" cy="1505.8" r="6.4" fill="none" stroke="#1a1aff" stroke-width="2"/>
<circle cx="1791.1" cy="1490.7" r="6.4" fill="none" stroke="#1a1aff" stroke-width="2"/>
<circle cx="1822.8" cy="1476.9" r="6.4" fill="none" stroke="#1a1aff" stroke-width="2"/>
<circle cx="1853.2" cy="1461.7" r="6.4" fill="none" stroke="#1a1aff" stroke-width="2"/>
<circle cx="1887.4" cy="1442.7" r="6.4" fill="none" stroke="#1a1aff" stroke-width="2"/>
<circle cx="1917.8" cy="1423.7" r="6.4" fill="none" stroke="#1a1aff" stroke-width="2"/>
<circle cx="1950.8" cy="1398.3" r="6.4" fill="none" stroke="#1a1aff" stroke-width="2"/>
<circle cx="1981.2" cy="1364.1" r="6.4" fill="none" stroke="#1a1aff" stroke-width="2"/>
<circle cx="1991.3" cy="1351.4" r="6.4" fill="none" stroke="#1a1aff" stroke-width="2"/>
<circle cx="2010.3" cy="1310.9" r="6.4" fill="none" stroke="#1a1aff" stroke-width="2"/>
<circle cx="2021.7" cy="1289.3" r="6.4" fill="none" stroke="#1a1aff" stroke-width="2"/>
<circle cx="2042" cy="1251.3" r="6.4" fill="none" stroke="#1a1aff" stroke-width="2"/>
<circle cx="2050.9" cy="1245" r="6.4" fill="none" stroke="#1a1aff" stroke-width="2"/>
<circle cx="2054.7" cy="1238.7" r="6.4" fill="none" stroke="#1a1aff" stroke-width="2"/>
<circle cx="2086.4" cy="1226" r="6.4" fill="none" stroke="#1a1aff" stroke-width="2"/>
<circle cx="2124.4" cy="1217.1" r="6.4" fill="none" stroke="#1a1aff" stroke-width="2"/>
<circle cx="2157.3" cy="1208.3" r="6.4" fill="none" stroke="#1a1aff" stroke-width="2"/>
<circle cx="2175.1" cy="1203.2" r="6.4" fill="none" stroke="#1a1aff" stroke-width="2"/>
<circle cx="2181.1" cy="1206.6" r="6.4" fill="none" stroke="#1a1aff" stroke-width="2"/>
<circle cx="2187.9" cy="1203.9" r="6.4" fill="none" stroke="#1a1aff" stroke-width="2"/>
<circle cx="2194.8" cy="1201.1" r="6.4" fill="none" stroke="#1a1aff" stroke-width="2"/>
<circle cx="2201.6" cy="1198.4" r="6.4" fill="none" stroke="#1a1aff" stroke-width="2"/>
<circle cx="2208.2" cy="1195.1" r="6.4" fill="none" stroke="#1a1aff" stroke-width="2"/>
<circle cx="2214.4" cy="1191.2" r="6.4" fill="none" stroke="#1a1aff" stroke-width="2"/>
<circle cx="2220.7" cy="1187.3" r="6.4" fill="none" stroke="#1a1aff" stroke-width="2"/>
<circle cx="2226.7" cy="1183.2" r="6.4" fill="none" stroke="#1a1aff" stroke-width="2"/>
<circle cx="2231.9" cy="1178" r="6.4" fill="none" stroke="#1a1aff" stroke-width="2"/>
<circle cx="2237.1" cy="1172.8" r="6.4" fill="none" stroke="#1a1aff" stroke-width="2"/>
<circle cx="2242.1" cy="1167.4" r="6.4" fill="none" stroke="#1a1aff" stroke-width="2"/>
<circle cx="2246.3" cy="1161.4" r="6.4" fill="none" stroke="#1a1aff" stroke-width="2"/>
<circle cx="2250.6" cy="1155.4" r="6.4" fill="none" stroke="#1a1aff" stroke-width="2"/>
<circle cx="2254.5" cy="1149.2" r="6.4" fill="none" stroke="#1a1aff" stroke-width="2"/>
<circle cx="2257.4" cy="1142.4" r="6.4" fill="none" stroke="#1a1aff" stroke-width="2"/>
<circle cx="2260.3" cy="1135.7" r="6.4" fill="none" stroke="#1a1aff" stroke-width="2"/>
<circle cx="2262.6" cy="1128.7" r="6.4" fill="none" stroke="#1a1aff" stroke-width="2"/>
<circle cx="2264.6" cy="1121.6" r="6.4" fill="none" stroke="#1a1aff" stroke-width="2"/>
<circle cx="2266.5" cy="1114.5" r="6.4" fill="none" stroke="#1a1aff" stroke-width="2"/>
<circle cx="2267.5" cy="1107.2" r="6.4" fill="none" stroke="#1a1aff" stroke-width="2"/>
<circle cx="2268.5" cy="1099.9" r="6.4" fill="none" stroke="#1a1aff" stroke-width="2"/>
<circle cx="2269.4" cy="1092.6" r="6.4" fill="none" stroke="#1a1aff" stroke-width="2"/>
<circle cx="2270.1" cy="1085.3" r="6.4" fill="none" stroke="#1a1aff" stroke-width="2"/>
<circle cx="2266.3" cy="1085.3" r="6.4" fill="none" stroke="#1a1aff" stroke-width="2"/>
<circle cx="2263.3" cy="1091.9" r="6.4" fill="none" stroke="#1a1aff" stroke-width="2"/>
<circle cx="2261" cy="1098.7" r="6.4" fill="none" stroke="#1a1aff" stroke-width="2"/>
<circle cx="2258.7" cy="1105.6" r="6.4" fill="none" stroke="#1a1aff" stroke-width="2"/>
<circle cx="2256.4" cy="1112.4" r="6.4" fill="none" stroke="#1a1aff" stroke-width="2"/>
<circle cx="2254.1" cy="1119.3" r="6.4" fill="none" stroke="#1a1aff" stroke-width="2"/>
<circle cx="2251.1" cy="1125.8" r="6.4" fill="none" stroke="#1a1aff" stroke-width="2"/>
<circle cx="2247.9" cy="1132.3" r="6.4" fill="none" stroke="#1a1aff" stroke-width="2"/>
<circle cx="2244.6" cy="1138.7" r="6.4" fill="none" stroke="#1a1aff" stroke-width="2"/>
<circle cx="2241.4" cy="1145.2" r="6.4" fill="none" stroke="#1a1aff" stroke-width="2"/>
<circle cx="2238.1" cy="1151.6" r="6.4" fill="none" stroke="#1a1aff" stroke-width="2"/>
<circle cx="2233.4" cy="1157.1" r="6.4" fill="none" stroke="#1a1aff" stroke-width="2"/>
<circle cx="2228.8" cy="1162.7" r="6.4" fill="none" stroke="#1a1aff" stroke-width="2"/>
<circle cx="2223.9" cy="1167.9" r="6.4" fill="none" stroke="#1a1aff" stroke-width="2"/>
<circle cx="2218.4" cy="1172.6" r="6.4" fill="none" stroke="#1a1aff" stroke-width="2"/>
<circle cx="2212.8" cy="1177.2" r="6.4" fill="none" stroke="#1a1aff" stroke-width="2"/>
<circle cx="2207" cy="1181.5" r="6.4" fill="none" stroke="#1a1aff" stroke-width="2"/>
<circle cx="2201" cy="1185.5" r="6.4" fill="none" stroke="#1a1aff" stroke-width="2"/>
<circle cx="2194.9" cy="1189.4" r="6.4" fill="none" stroke="#1a1aff" stroke-width="2"/>
<circle cx="2188.3" cy="1192.3" r="6.4" fill="none" stroke="#1a1aff" stroke-width="2"/>
<circle cx="2181.7" cy="1195.2" r="6.4" fill="none" stroke="#1a1aff" stroke-width="2"/>
<circle cx="2175.1" cy="1198.1" r="6.4" fill="none" stroke="#1a1aff" stroke-width="2"/>
<circle cx="2086.4" cy="1224.7" r="6.4" fill="none" stroke="#1a1aff" stroke-width="2"/>
<circle cx="2056" cy="1228.5" r="6.4" fill="none" stroke="#1a1aff" stroke-width="2"/>
<circle cx="2023" cy="1236.1" r="6.4" fill="none" stroke="#1a1aff" stroke-width="2"/>
<circle cx="1990.1" cy="1242.5" r="6.4" fill="none" stroke="#1a1aff" stroke-width="2"/>
<circle cx="1957.1" cy="1248.8" r="6.4" fill="none" stroke="#1a1aff" stroke-width="2"/>
<circle cx="1924.2" cy="1257.7" r="6.4" fill="none" stroke="#1a1aff" stroke-width="2"/>
<circle cx="1887.4" cy="1279.2" r="6.4" fill="none" stroke="#1a1aff" stroke-width="2"/>
<circle cx="1857.8" cy="1307.1" r="6.4" fill="none" stroke="#1a1aff" stroke-width="2"/>
<circle cx="1837.5" cy="1355.2" r="6.4" fill="none" stroke="#1a1aff" stroke-width="2"/>
<circle cx="1834.2" cy="1398.3" r="6.4" fill="none" stroke="#1a1aff" stroke-width="2"/>
<circle cx="1829.1" cy="1432.5" r="6.4" fill="none" stroke="#1a1aff" stroke-width="2"/>
<circle cx="1822.8" cy="1459.1" r="6.4" fill="none" stroke="#1a1aff" stroke-width="2"/>
<circle cx="1791.1" cy="1490.7" r="6.4" fill="none" stroke="#1a1aff" stroke-width="2"/>
</g>
</svg></div>
</body></html>
